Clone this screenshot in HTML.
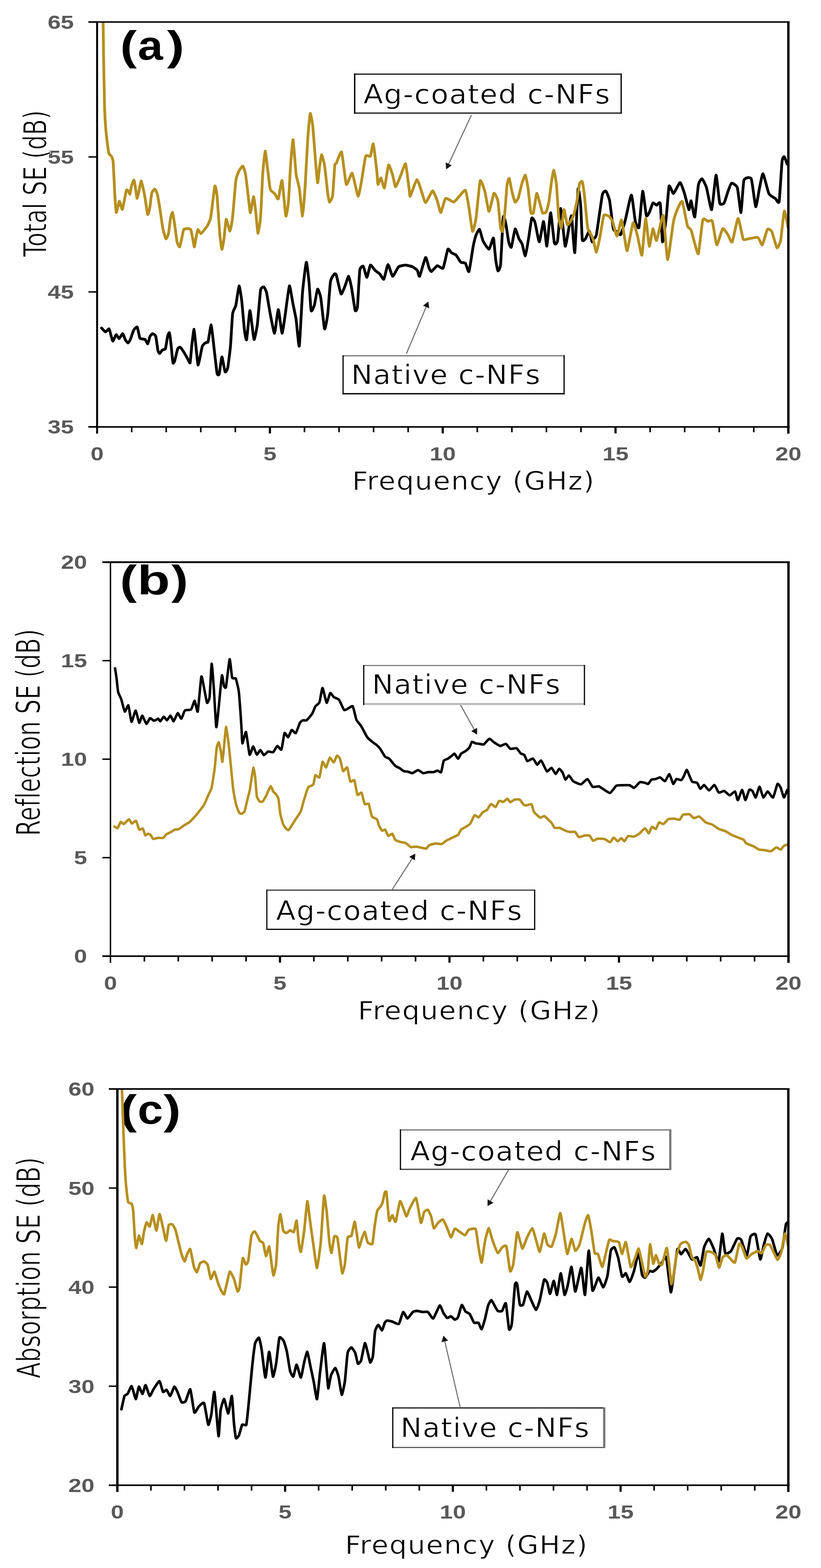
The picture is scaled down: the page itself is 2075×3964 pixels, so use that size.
<!DOCTYPE html><html><head><meta charset="utf-8"><title>Shielding effectiveness</title>
<style>html,body{margin:0;padding:0;background:#fff;}svg{display:block;}text{font-variant-ligatures:none;font-feature-settings:"liga" 0,"clig" 0;}</style></head><body>
<svg xmlns="http://www.w3.org/2000/svg" width="2075" height="3964" viewBox="0 0 2075 3964">
<rect width="100%" height="100%" fill="#fff"/>
<defs>
<clipPath id="clipa"><rect x="245.4" y="55.6" width="1747.1" height="1023.6"/></clipPath>
<clipPath id="clipb"><rect x="279.2" y="1421.2" width="1713.6" height="996.0"/></clipPath>
<clipPath id="clipc"><rect x="296.6" y="2753.1" width="1695.8" height="1001.7"/></clipPath>
</defs>
<text x="303.71" y="151.25" font-family="'Liberation Sans', 'DejaVu Sans', sans-serif" font-weight="bold" font-size="104.00" fill="#000" textLength="42.06" lengthAdjust="spacingAndGlyphs">(</text>
<text x="348.21" y="151.25" font-family="'Liberation Sans', 'DejaVu Sans', sans-serif" font-weight="bold" font-size="104.00" fill="#000" textLength="63.60" lengthAdjust="spacingAndGlyphs">a</text>
<text x="422.04" y="151.25" font-family="'Liberation Sans', 'DejaVu Sans', sans-serif" font-weight="bold" font-size="104.00" fill="#000" textLength="43.62" lengthAdjust="spacingAndGlyphs">)</text>
<text x="303.26" y="1502.15" font-family="'Liberation Sans', 'DejaVu Sans', sans-serif" font-weight="bold" font-size="104.00" fill="#000" textLength="42.64" lengthAdjust="spacingAndGlyphs">(</text>
<text x="346.95" y="1502.15" font-family="'Liberation Sans', 'DejaVu Sans', sans-serif" font-weight="bold" font-size="104.00" fill="#000" textLength="82.56" lengthAdjust="spacingAndGlyphs">b</text>
<text x="432.91" y="1502.15" font-family="'Liberation Sans', 'DejaVu Sans', sans-serif" font-weight="bold" font-size="104.00" fill="#000" textLength="42.41" lengthAdjust="spacingAndGlyphs">)</text>
<text x="302.69" y="2841.29" font-family="'Liberation Sans', 'DejaVu Sans', sans-serif" font-weight="bold" font-size="103.42" fill="#000" textLength="43.17" lengthAdjust="spacingAndGlyphs">(</text>
<text x="347.89" y="2841.29" font-family="'Liberation Sans', 'DejaVu Sans', sans-serif" font-weight="bold" font-size="103.42" fill="#000" textLength="64.33" lengthAdjust="spacingAndGlyphs">c</text>
<text x="413.39" y="2841.29" font-family="'Liberation Sans', 'DejaVu Sans', sans-serif" font-weight="bold" font-size="103.42" fill="#000" textLength="43.80" lengthAdjust="spacingAndGlyphs">)</text>
<g clip-path="url(#clipa)" fill="none" stroke-linejoin="round" stroke-linecap="round">
<path d="M256.7 829.2C257.5 830.0 265.1 839.0 266.7 839.2C268.3 839.4 274.4 830.5 275.6 831.4C276.8 832.3 280.4 847.7 281.2 850.3C282.0 852.9 284.6 863.0 285.6 862.6C286.6 862.2 292.1 846.5 293.4 845.9C294.7 845.3 299.8 856.1 301.2 855.9C302.6 855.7 308.8 843.3 310.1 843.6C311.4 843.9 315.7 857.2 316.8 859.2C317.9 861.2 322.5 867.0 323.5 867.0C324.5 867.0 327.8 861.9 329.0 859.2C330.2 856.5 336.4 837.4 337.9 834.7C339.4 832.0 345.5 825.2 346.8 826.9C348.1 828.6 352.3 852.3 353.5 854.8C354.7 857.3 360.2 856.7 361.3 857.0C362.4 857.3 365.9 857.1 366.9 858.1C367.9 859.1 372.5 869.9 373.5 869.2C374.5 868.6 378.1 852.4 379.1 850.3C380.1 848.2 384.6 843.6 385.8 843.6C387.0 843.6 392.5 846.8 393.6 850.3C394.7 853.8 398.3 882.3 399.1 885.9C399.9 889.5 402.7 893.8 403.6 893.7C404.5 893.6 409.1 885.8 410.3 884.8C411.5 883.8 417.0 884.4 418.1 881.5C419.2 878.6 422.8 853.6 423.6 850.3C424.4 847.0 427.4 839.5 428.1 841.4C428.8 843.3 431.8 866.3 432.5 872.6C433.2 878.9 436.3 913.8 437.0 917.1C437.7 920.4 440.4 915.6 441.4 912.6C442.4 909.6 448.0 884.4 449.2 881.5C450.4 878.6 454.6 877.4 455.9 878.1C457.2 878.8 463.3 888.1 464.8 890.4C466.3 892.7 472.4 903.8 473.7 906.0C475.0 908.2 479.5 919.9 480.4 917.1C481.3 914.3 484.0 879.6 484.8 872.6C485.6 865.6 489.5 831.6 490.4 832.5C491.3 833.4 495.2 876.2 496.0 883.7C496.8 891.2 499.7 920.7 500.4 922.6C501.1 924.5 504.0 910.0 504.9 906.0C505.8 902.0 510.2 878.1 511.5 874.8C512.8 871.5 519.2 866.8 520.4 865.9C521.6 865.0 524.9 867.4 526.0 863.7C527.1 860.0 532.6 820.5 533.8 821.4C535.0 822.3 539.2 864.9 540.4 875.0C541.6 885.1 547.4 937.1 548.5 943.0C549.6 948.9 553.0 949.1 554.0 945.7C555.0 942.3 559.6 902.7 560.8 902.2C562.0 901.7 567.7 937.9 568.9 940.2C570.1 942.5 574.6 934.7 575.7 929.3C576.8 923.9 581.5 886.3 582.5 875.0C583.5 863.7 586.8 802.1 587.9 793.5C589.0 784.9 594.7 777.6 596.1 771.7C597.5 765.8 603.0 723.7 604.2 722.8C605.4 721.9 609.9 751.6 611.0 760.9C612.1 770.2 616.8 826.1 617.8 834.2C618.8 842.4 622.2 862.8 623.3 858.7C624.4 854.6 630.3 788.5 631.4 785.3C632.5 782.1 635.9 814.6 636.8 820.7C637.7 826.8 641.2 858.7 642.3 858.7C643.4 858.7 649.0 831.1 650.4 820.7C651.8 810.3 657.2 741.6 658.6 733.7C660.0 725.8 665.5 725.0 666.7 725.5C667.9 726.0 672.1 733.4 673.5 739.1C674.9 744.8 681.3 784.9 683.0 793.5C684.7 802.1 692.2 843.3 693.9 842.4C695.6 841.5 701.8 782.6 703.4 782.6C705.0 782.6 711.4 841.5 712.9 842.4C714.4 843.3 719.6 803.5 721.1 793.5C722.6 783.5 729.8 725.1 731.4 722.8C733.0 720.5 738.7 759.3 740.1 766.3C741.5 773.3 746.9 798.0 748.3 807.1C749.7 816.2 755.0 880.7 756.4 875.0C757.8 869.3 763.1 756.8 764.6 739.1C766.1 721.4 772.7 665.3 774.1 663.0C775.5 660.7 779.9 701.8 780.9 712.0C781.9 722.2 785.2 780.3 786.3 785.3C787.4 790.3 793.1 776.2 794.5 771.7C795.9 767.2 801.2 732.6 802.6 731.0C804.0 729.4 809.2 744.3 810.7 752.7C812.2 761.1 818.8 828.1 820.3 831.5C821.8 834.9 827.2 803.5 828.4 793.5C829.6 783.5 833.8 720.4 835.2 712.0C836.6 703.6 843.5 694.4 844.7 693.0C845.9 691.6 848.6 691.2 850.0 695.4C851.4 699.6 860.0 740.7 861.9 742.9C863.8 745.1 870.7 725.8 872.3 722.1C873.9 718.4 879.8 697.9 881.2 698.4C882.6 698.9 887.2 720.8 888.6 728.0C890.0 735.2 896.3 780.4 897.5 784.4C898.7 788.4 902.4 783.9 903.4 775.5C904.4 767.1 908.1 692.0 909.3 683.5C910.5 675.0 916.7 671.6 918.2 673.1C919.7 674.6 925.7 701.5 927.2 701.3C928.7 701.1 934.4 671.7 936.1 670.2C937.8 668.7 945.9 681.6 947.9 683.5C949.9 685.4 957.9 690.5 959.8 692.4C961.7 694.3 968.5 707.8 970.2 705.8C971.9 703.8 978.8 669.3 980.6 668.7C982.5 668.1 990.2 697.9 992.4 698.4C994.6 698.9 1004.6 677.0 1007.3 674.6C1010.0 672.2 1022.1 670.2 1025.1 670.2C1028.1 670.2 1040.4 673.5 1042.9 674.6C1045.4 675.7 1053.2 681.5 1054.7 683.5C1056.2 685.5 1059.0 701.1 1060.7 698.4C1062.4 695.7 1073.5 652.6 1075.5 650.9C1077.5 649.2 1083.2 674.6 1084.4 677.6C1085.6 680.6 1088.7 687.0 1090.4 686.5C1092.1 686.0 1102.7 672.4 1105.2 671.7C1107.7 671.0 1117.8 681.1 1120.0 677.6C1122.2 674.1 1130.2 633.3 1131.9 630.1C1133.6 626.9 1139.1 637.8 1140.8 639.0C1142.5 640.2 1150.7 643.0 1152.7 645.0C1154.7 647.0 1162.5 661.1 1164.5 662.8C1166.5 664.5 1174.7 663.7 1176.4 665.7C1178.1 667.7 1183.7 690.0 1185.3 686.5C1186.9 683.0 1194.2 631.9 1195.7 624.2C1197.2 616.5 1201.7 598.2 1203.1 594.5C1204.5 590.8 1210.5 578.5 1212.0 579.7C1213.5 580.9 1218.9 605.1 1220.9 609.3C1222.9 613.5 1233.7 630.3 1235.7 630.1C1237.7 629.9 1243.6 608.6 1244.6 606.4C1245.6 604.2 1246.9 599.0 1247.6 603.3C1248.3 607.6 1252.1 650.8 1253.0 657.6C1253.9 664.4 1257.4 683.9 1258.4 684.8C1259.4 685.7 1264.1 679.8 1265.2 668.5C1266.3 657.2 1270.9 557.3 1272.0 548.9C1273.1 540.5 1277.7 562.7 1278.8 567.9C1279.9 573.1 1284.5 606.6 1285.6 611.4C1286.7 616.2 1291.0 627.7 1292.4 625.0C1293.8 622.3 1300.3 580.6 1301.9 578.8C1303.5 577.0 1309.9 600.1 1311.4 603.3C1312.9 606.5 1318.2 613.2 1319.6 616.8C1321.0 620.4 1326.3 647.8 1327.7 646.7C1329.1 645.6 1334.5 611.2 1335.9 603.3C1337.3 595.4 1342.6 555.0 1344.0 551.6C1345.4 548.2 1350.6 557.5 1352.2 562.5C1353.8 567.5 1361.2 611.6 1363.0 611.4C1364.8 611.2 1372.3 558.9 1373.9 559.8C1375.5 560.7 1380.6 624.1 1382.1 622.3C1383.6 620.5 1390.0 538.7 1391.6 538.0C1393.2 537.3 1399.6 608.2 1401.1 614.1C1402.6 620.0 1407.8 615.9 1409.2 608.7C1410.6 601.5 1415.8 526.1 1417.4 527.2C1419.0 528.3 1426.6 618.2 1428.3 622.3C1430.0 626.4 1436.4 582.4 1437.8 576.1C1439.2 569.8 1443.4 541.0 1444.6 546.2C1445.8 551.4 1451.3 644.3 1452.7 638.6C1454.1 632.9 1459.7 488.0 1460.9 478.3C1462.2 468.6 1466.8 511.1 1467.7 521.7C1468.6 532.3 1470.7 599.2 1471.7 606.0C1472.7 612.8 1478.4 605.1 1479.9 603.3C1481.4 601.5 1488.0 583.5 1489.4 584.2C1490.8 584.9 1495.3 609.7 1496.2 611.4C1497.1 613.1 1499.1 605.7 1500.0 604.2C1500.9 602.7 1505.5 602.3 1507.4 593.0C1509.3 583.7 1520.3 502.0 1522.3 492.9C1524.3 483.8 1530.0 482.4 1531.5 483.6C1533.0 484.8 1539.2 499.8 1540.8 507.7C1542.3 515.6 1548.6 571.7 1550.1 578.2C1551.6 584.7 1557.8 584.4 1559.3 585.6C1560.8 586.8 1566.9 595.2 1568.6 593.0C1570.3 590.8 1577.4 567.9 1579.7 559.6C1582.0 551.3 1593.5 492.9 1595.7 492.9C1597.9 492.9 1604.1 552.8 1605.7 559.6C1607.3 566.4 1613.5 580.8 1615.0 574.5C1616.5 568.2 1622.8 486.1 1624.3 483.6C1625.8 481.1 1632.1 540.3 1633.5 544.8C1634.9 549.3 1639.6 540.0 1641.0 537.4C1642.4 534.8 1648.7 514.8 1650.2 513.3C1651.7 511.7 1658.0 518.6 1659.5 518.8C1661.0 518.9 1667.6 507.4 1668.8 515.1C1670.0 522.8 1673.1 608.5 1674.3 611.6C1675.5 614.7 1682.2 564.0 1683.6 552.2C1685.0 540.5 1689.5 475.9 1691.0 470.6C1692.5 465.4 1699.9 490.0 1702.2 489.2C1704.5 488.4 1716.5 461.4 1718.8 461.4C1721.1 461.4 1728.1 483.5 1730.0 489.2C1731.9 494.9 1739.7 528.5 1741.1 530.0C1742.5 531.5 1745.5 506.2 1746.7 507.7C1747.9 509.2 1754.4 551.9 1755.9 548.5C1757.4 545.1 1763.7 474.9 1765.2 466.9C1766.8 458.9 1772.8 451.5 1774.5 452.1C1776.2 452.7 1783.6 467.8 1785.6 474.3C1787.6 480.8 1796.6 532.6 1798.6 530.0C1800.6 527.4 1808.0 444.2 1809.7 442.8C1811.4 441.4 1817.3 507.4 1819.0 513.3C1820.7 519.2 1828.4 515.6 1830.1 513.3C1831.8 511.0 1837.9 489.7 1839.4 485.5C1841.0 481.3 1846.7 464.1 1848.7 463.2C1850.7 462.3 1861.5 468.1 1863.5 474.3C1865.5 480.5 1871.4 538.9 1872.8 537.4C1874.2 535.9 1878.0 462.9 1880.2 455.8C1882.4 448.7 1896.2 446.5 1898.7 452.1C1901.2 457.7 1908.2 520.3 1909.9 522.5C1911.6 524.7 1917.6 484.9 1919.1 478.0C1920.6 471.1 1926.4 438.2 1928.4 439.1C1930.4 440.0 1940.6 483.9 1943.2 489.2C1945.8 494.5 1957.7 500.5 1959.9 502.2C1962.1 503.9 1967.8 517.5 1969.2 509.6C1970.6 501.7 1975.5 417.0 1976.6 407.6C1977.7 398.2 1981.1 395.8 1982.2 396.4C1983.3 397.0 1989.0 413.4 1989.6 415.0" stroke="#000" stroke-width="7.0"/>
<path d="M255.5 40.0C255.9 41.5 260.0 49.4 260.5 57.9C261.0 66.4 261.5 124.8 261.8 142.5C262.1 160.2 263.8 254.6 264.3 270.6C264.8 286.6 267.3 325.0 268.2 334.6C269.1 344.2 273.4 380.8 274.6 385.9C275.8 391.0 281.3 394.0 282.3 396.1C283.3 398.2 285.5 403.8 286.1 411.5C286.7 419.2 289.4 477.9 290.0 488.4C290.6 498.9 292.8 535.3 293.8 537.0C294.8 538.7 300.5 510.4 301.5 508.9C302.5 507.4 304.7 517.4 305.3 519.1C305.9 520.8 308.4 530.5 309.2 529.4C309.9 528.3 313.4 510.4 314.3 506.3C315.2 502.2 318.5 482.6 319.4 480.7C320.2 478.8 323.8 482.4 324.5 483.3C325.2 484.2 327.8 492.0 328.4 490.9C329.0 489.8 331.3 473.4 332.2 470.4C333.1 467.4 337.7 454.7 338.6 455.1C339.5 455.5 341.9 471.8 342.5 475.6C343.1 479.4 345.7 500.1 346.3 501.2C346.9 502.3 349.3 492.0 350.2 488.4C351.1 484.8 355.6 458.7 356.6 457.6C357.6 456.5 360.8 472.0 361.7 475.6C362.6 479.2 365.8 495.6 366.8 501.2C367.8 506.8 372.2 540.1 373.2 542.2C374.2 544.3 377.5 531.3 378.4 526.8C379.3 522.3 382.4 492.5 383.5 488.4C384.6 484.3 390.0 477.9 391.2 478.1C392.4 478.3 396.5 486.8 397.6 490.9C398.7 495.0 402.8 519.5 404.0 526.8C405.2 534.1 410.4 571.6 411.7 578.0C413.0 584.4 418.1 602.6 419.3 603.7C420.5 604.8 424.8 595.2 425.8 590.9C426.8 586.6 430.0 556.9 430.9 552.4C431.8 547.9 435.1 535.9 436.0 537.0C436.9 538.1 440.1 559.0 441.1 565.2C442.1 571.4 446.4 606.5 447.5 611.4C448.6 616.3 452.9 624.8 453.9 624.2C454.9 623.6 458.2 607.3 459.1 603.7C460.0 600.1 463.0 582.7 464.2 580.6C465.4 578.5 471.7 578.0 473.2 578.0C474.7 578.0 480.9 578.5 482.1 580.6C483.3 582.7 486.4 600.1 487.2 603.7C487.9 607.3 490.5 624.2 491.1 624.2C491.8 624.2 494.3 607.3 495.0 603.7C495.7 600.1 498.9 581.7 500.0 580.6C501.1 579.5 506.3 590.9 507.7 590.9C509.1 590.9 515.3 582.3 516.7 580.6C518.1 578.9 523.1 572.8 524.4 570.4C525.7 568.0 531.1 556.5 532.1 552.4C533.1 548.3 535.4 528.6 536.3 521.7C537.2 514.8 542.1 472.4 543.1 470.1C544.1 467.8 547.5 484.6 548.5 494.6C549.5 504.6 554.3 578.4 555.3 589.7C556.3 601.0 559.9 629.3 560.8 630.4C561.7 631.5 565.3 609.6 566.2 603.3C567.1 597.0 570.4 555.9 571.6 554.3C572.8 552.7 579.7 584.7 581.1 584.2C582.5 583.8 586.6 559.5 587.9 548.9C589.1 538.3 594.7 466.2 596.1 456.5C597.5 446.8 602.7 435.2 604.2 432.1C605.7 429.0 612.4 419.1 613.8 419.8C615.2 420.5 619.4 434.0 620.5 440.2C621.6 446.4 626.3 486.5 627.3 494.6C628.3 502.8 631.7 537.8 632.8 538.0C633.9 538.2 639.8 497.5 640.9 497.3C642.0 497.1 645.5 527.6 646.4 535.3C647.3 543.0 650.8 588.6 651.8 589.7C652.8 590.8 657.6 561.4 658.6 548.9C659.6 536.4 663.0 454.1 664.0 440.2C665.0 426.3 669.3 382.9 670.3 381.8C671.3 380.7 675.2 418.6 676.3 426.6C677.4 434.6 681.5 473.1 683.0 478.3C684.5 483.5 692.2 487.1 693.9 489.1C695.6 491.1 701.8 505.4 703.4 502.7C705.0 500.0 711.3 452.9 712.9 456.5C714.5 460.1 721.0 541.9 722.4 546.2C723.8 550.5 728.2 519.3 729.2 508.2C730.2 497.1 733.7 425.9 734.7 413.0C735.7 400.1 739.6 351.0 740.7 353.3C741.8 355.6 747.0 430.0 748.3 440.2C749.6 450.4 755.0 466.7 756.4 475.5C757.8 484.3 763.4 546.9 764.6 546.2C765.9 545.5 770.3 484.2 771.4 467.4C772.5 450.6 777.1 360.2 778.2 345.1C779.3 330.0 783.1 289.0 784.1 286.7C785.1 284.4 789.4 309.6 790.4 317.9C791.4 326.2 794.8 373.9 795.8 385.9C796.8 397.9 801.6 459.3 802.6 462.0C803.6 464.7 807.2 424.4 808.1 418.5C809.0 412.6 811.9 391.3 812.9 391.3C813.9 391.3 819.0 410.4 820.3 418.5C821.6 426.6 827.4 481.4 828.4 489.1C829.4 496.8 831.5 510.4 832.5 510.9C833.5 511.4 839.6 502.3 840.7 494.6C841.8 486.9 845.3 425.3 846.1 418.5C846.9 411.7 848.6 415.6 850.0 412.8C851.4 410.0 861.3 380.2 863.4 384.6C865.5 389.1 873.0 461.8 875.2 466.2C877.4 470.6 887.6 435.5 890.1 438.0C892.6 440.5 902.9 494.2 904.9 495.8C906.9 497.4 912.2 465.7 913.8 457.3C915.4 448.9 922.3 400.2 924.2 395.0C926.1 389.8 934.5 397.6 936.1 395.0C937.7 392.4 942.1 360.6 943.5 363.8C944.9 367.0 951.4 425.0 952.4 433.5C953.4 442.0 954.4 464.8 955.3 466.2C956.2 467.6 961.4 449.2 962.8 449.9C964.2 450.6 970.1 477.8 971.7 475.1C973.3 472.4 980.3 419.9 982.0 417.2C983.7 414.5 990.9 437.8 992.4 442.4C993.9 447.0 998.2 472.1 999.9 472.1C1001.6 472.1 1011.1 447.2 1013.2 442.4C1015.3 437.6 1023.4 411.2 1025.1 414.2C1026.8 417.2 1033.0 471.2 1034.0 478.0C1035.0 484.8 1035.3 497.8 1036.9 495.8C1038.5 493.8 1051.1 455.8 1053.3 454.3C1055.5 452.8 1061.8 473.2 1063.6 478.0C1065.4 482.8 1073.0 511.8 1075.5 512.2C1078.0 512.6 1090.8 482.9 1093.3 482.5C1095.8 482.1 1103.5 503.1 1105.2 507.7C1106.9 512.3 1112.4 537.9 1114.1 537.4C1115.8 536.9 1123.3 504.0 1126.0 501.8C1128.7 499.6 1144.0 510.9 1146.7 510.7C1149.4 510.4 1156.1 501.3 1158.6 498.8C1161.1 496.3 1174.2 478.8 1176.4 481.0C1178.6 483.2 1183.8 516.8 1185.3 525.5C1186.8 534.2 1192.7 582.7 1194.2 584.9C1195.7 587.1 1201.5 562.8 1203.1 552.2C1204.7 541.6 1211.6 463.0 1213.5 457.3C1215.4 451.6 1223.5 477.6 1225.4 484.0C1227.3 490.4 1234.0 533.9 1235.8 534.4C1237.6 534.9 1246.3 493.4 1247.6 489.9C1248.9 486.3 1250.7 490.3 1251.6 491.8C1252.5 493.3 1257.3 501.2 1258.4 508.2C1259.5 515.2 1264.2 569.8 1265.2 576.1C1266.2 582.4 1269.8 587.6 1270.7 584.2C1271.6 580.8 1275.2 545.0 1276.1 535.3C1277.0 525.6 1280.6 474.4 1281.5 467.4C1282.4 460.4 1286.0 449.7 1287.0 451.1C1288.0 452.5 1292.6 478.7 1293.8 483.7C1295.0 488.7 1300.5 509.5 1301.9 510.9C1303.3 512.3 1308.6 504.1 1310.1 500.0C1311.6 495.9 1318.1 466.8 1319.6 462.0C1321.1 457.2 1326.5 441.8 1327.7 442.9C1328.9 444.0 1333.4 467.8 1334.5 475.5C1335.6 483.2 1340.2 530.1 1341.3 535.3C1342.4 540.5 1346.8 541.9 1348.1 538.0C1349.3 534.1 1355.1 491.6 1356.3 489.1C1357.5 486.6 1361.8 504.1 1363.0 508.2C1364.2 512.3 1369.7 535.7 1371.2 538.0C1372.7 540.3 1379.3 537.8 1380.7 535.3C1382.1 532.8 1386.4 514.8 1387.5 508.2C1388.6 501.6 1393.3 463.0 1394.3 456.5C1395.3 450.0 1398.7 429.8 1399.7 430.7C1400.7 431.6 1405.5 457.5 1406.5 467.4C1407.5 477.2 1411.0 539.8 1412.0 548.9C1413.0 558.0 1417.7 577.7 1418.8 576.1C1419.9 574.5 1424.3 530.6 1425.5 529.9C1426.7 529.2 1432.3 565.4 1433.7 567.9C1435.1 570.4 1440.4 561.8 1441.8 559.8C1443.2 557.8 1448.6 547.8 1450.0 543.5C1451.4 539.2 1457.0 514.8 1458.2 508.2C1459.4 501.6 1463.8 468.8 1464.9 464.7C1466.0 460.6 1470.7 456.7 1471.7 459.2C1472.7 461.7 1476.1 484.9 1477.2 494.6C1478.3 504.3 1483.9 568.0 1485.3 576.1C1486.7 584.2 1492.3 589.8 1493.5 592.4C1494.7 595.0 1498.8 604.1 1500.0 607.9C1501.2 611.7 1506.0 638.4 1507.4 637.5C1508.8 636.6 1515.2 604.4 1516.7 596.7C1518.2 589.0 1524.2 549.0 1526.0 544.8C1527.8 540.6 1537.1 545.5 1538.9 546.7C1540.8 547.9 1546.5 555.4 1548.2 559.6C1549.9 563.8 1557.4 597.0 1559.3 596.7C1561.2 596.4 1569.0 555.9 1570.5 555.9C1572.0 555.9 1576.7 590.2 1577.9 596.7C1579.1 603.2 1583.5 636.6 1585.3 633.8C1587.1 631.0 1597.9 566.5 1600.1 563.4C1602.3 560.3 1609.4 589.9 1611.3 596.7C1613.2 603.5 1620.7 648.7 1622.4 645.0C1624.1 641.3 1630.2 554.1 1631.7 552.2C1633.2 550.3 1639.5 620.5 1641.0 622.7C1642.5 624.9 1648.7 579.4 1650.2 578.2C1651.7 577.0 1657.3 610.7 1659.5 607.9C1661.7 605.1 1673.9 540.8 1676.2 544.8C1678.5 548.8 1685.1 654.9 1687.3 656.1C1689.5 657.3 1700.0 570.4 1702.2 559.6C1704.4 548.8 1711.5 530.5 1713.3 526.3C1715.1 522.1 1722.4 505.9 1724.4 509.6C1726.4 513.3 1735.5 564.8 1737.4 570.8C1739.3 576.8 1745.2 578.2 1746.7 581.9C1748.2 585.6 1754.4 610.4 1755.9 615.3C1757.4 620.2 1763.5 646.2 1765.2 641.2C1766.9 636.2 1774.3 562.7 1776.3 555.9C1778.3 549.1 1787.3 559.3 1789.3 559.6C1791.3 559.9 1798.5 554.6 1800.4 559.6C1802.3 564.6 1809.4 617.5 1811.6 619.0C1813.8 620.5 1824.1 580.4 1826.4 578.2C1828.7 576.0 1837.4 590.2 1839.4 593.0C1841.4 595.8 1848.3 615.0 1850.5 611.6C1852.7 608.2 1863.1 552.8 1865.4 552.2C1867.7 551.6 1876.3 599.9 1878.3 604.2C1880.3 608.5 1886.4 604.5 1889.5 604.2C1892.6 603.9 1912.3 599.2 1915.4 600.4C1918.5 601.6 1924.6 620.7 1926.6 619.0C1928.6 617.3 1937.5 582.8 1939.5 580.0C1941.5 577.2 1948.7 581.7 1950.7 585.6C1952.7 589.5 1961.8 624.5 1963.6 626.4C1965.4 628.3 1971.4 615.6 1972.9 607.9C1974.5 600.2 1980.7 536.5 1982.2 533.7C1983.8 530.9 1990.7 571.1 1991.5 574.5" stroke="#B68F1E" stroke-width="7.0"/>
</g>
<g clip-path="url(#clipb)" fill="none" stroke-linejoin="round" stroke-linecap="round">
<path d="M290.8 1689.7C291.1 1691.9 294.1 1710.7 294.7 1715.7C295.3 1720.7 297.6 1745.2 298.6 1749.5C299.6 1753.8 305.0 1763.5 306.4 1767.6C307.8 1771.7 313.9 1797.5 315.4 1798.8C316.9 1800.1 323.1 1781.0 324.5 1783.2C325.9 1785.4 330.8 1823.7 332.3 1824.8C333.8 1825.9 341.1 1796.0 342.7 1796.2C344.3 1796.4 350.4 1826.3 351.8 1827.4C353.2 1828.5 358.1 1809.0 359.6 1809.2C361.1 1809.4 368.4 1829.5 370.0 1830.0C371.6 1830.5 377.5 1816.4 379.1 1815.7C380.7 1815.0 387.7 1822.1 389.4 1822.2C391.1 1822.3 398.5 1816.9 399.8 1817.0C401.1 1817.1 403.8 1823.9 405.0 1823.5C406.2 1823.1 412.7 1812.0 414.1 1811.8C415.5 1811.6 420.5 1821.1 421.9 1820.9C423.3 1820.7 429.6 1809.0 431.0 1809.2C432.4 1809.4 437.3 1824.0 438.8 1823.5C440.3 1823.0 447.6 1803.2 449.2 1802.7C450.8 1802.2 456.8 1817.5 458.3 1817.0C459.8 1816.5 465.2 1798.2 467.3 1796.2C469.4 1794.2 480.8 1795.7 482.9 1793.6C485.0 1791.5 490.6 1771.1 492.0 1771.5C493.4 1771.9 498.4 1803.9 499.8 1798.8C501.2 1793.7 507.5 1715.0 508.9 1710.5C510.3 1706.0 515.5 1738.8 516.7 1744.3C517.9 1749.8 522.1 1775.2 523.2 1776.7C524.3 1778.2 528.7 1770.6 529.7 1762.4C530.7 1754.2 534.0 1680.4 534.9 1678.0C535.8 1675.6 539.0 1720.6 540.0 1733.9C541.0 1747.2 545.5 1832.3 546.5 1837.7C547.5 1843.1 550.5 1809.6 551.7 1798.8C552.9 1788.0 559.6 1713.3 560.8 1707.9C562.0 1702.5 565.1 1731.5 566.0 1733.9C566.9 1736.3 570.0 1742.1 571.2 1736.5C572.4 1730.9 579.0 1668.4 580.3 1666.4C581.6 1664.5 585.5 1709.0 586.8 1713.1C588.1 1717.2 594.5 1712.7 595.9 1715.7C597.3 1718.7 602.5 1739.3 603.7 1749.5C604.9 1759.7 609.5 1826.9 610.2 1837.7C610.9 1848.5 611.6 1878.2 612.6 1879.3C613.6 1880.4 620.2 1848.3 621.7 1850.7C623.2 1853.1 629.3 1904.8 630.8 1907.8C632.3 1910.8 638.4 1887.1 639.9 1887.1C641.4 1887.1 647.5 1907.0 649.0 1907.8C650.5 1908.6 656.5 1896.1 658.0 1896.2C659.5 1896.3 665.5 1908.8 667.1 1909.1C668.7 1909.4 675.5 1900.6 677.5 1900.0C679.5 1899.4 688.5 1902.6 690.5 1901.4C692.5 1900.2 699.2 1886.3 700.9 1885.8C702.6 1885.3 709.8 1897.6 711.3 1894.9C712.8 1892.2 717.7 1855.9 719.1 1853.3C720.5 1850.7 726.7 1864.4 728.2 1863.7C729.7 1863.0 735.6 1846.4 737.2 1845.5C738.8 1844.6 745.9 1854.8 747.6 1853.3C749.3 1851.8 756.5 1830.1 758.0 1827.4C759.5 1824.7 764.4 1821.4 765.8 1820.9C767.2 1820.4 772.9 1822.3 774.9 1820.9C776.9 1819.5 787.4 1806.9 789.2 1804.0C791.0 1801.1 795.5 1788.2 797.0 1785.8C798.5 1783.4 805.9 1779.3 807.4 1775.4C808.9 1771.5 813.6 1739.0 815.1 1739.1C816.6 1739.2 823.9 1775.6 825.5 1776.7C827.1 1777.8 833.1 1753.2 834.6 1752.0C836.1 1750.8 841.9 1761.0 843.7 1762.4C845.5 1763.8 854.5 1766.2 856.7 1768.9C858.9 1771.6 867.8 1793.1 869.7 1794.9C871.7 1796.7 878.3 1791.8 880.1 1791.0C881.9 1790.2 890.0 1783.4 891.7 1785.8C893.4 1788.2 899.1 1815.5 900.8 1819.6C902.5 1823.7 910.2 1831.4 912.5 1835.1C914.8 1838.8 925.6 1860.2 928.1 1863.7C930.6 1867.2 940.6 1875.2 942.4 1876.7C944.2 1878.2 948.5 1880.6 950.0 1881.9C951.5 1883.2 958.4 1889.7 960.4 1892.3C962.4 1894.9 971.4 1910.8 973.4 1913.0C975.4 1915.2 981.6 1916.2 983.8 1918.2C986.0 1920.2 997.1 1934.5 999.3 1936.4C1001.5 1938.4 1008.0 1940.5 1009.7 1941.6C1011.4 1942.7 1018.4 1948.6 1020.1 1949.4C1021.8 1950.2 1028.7 1950.3 1030.5 1950.7C1032.3 1951.1 1040.0 1954.9 1042.2 1954.6C1044.4 1954.3 1054.2 1946.8 1056.5 1946.8C1058.8 1946.8 1067.3 1954.2 1069.5 1954.6C1071.7 1955.0 1080.2 1952.2 1082.4 1952.0C1084.6 1951.8 1093.5 1952.3 1095.4 1952.0C1097.4 1951.7 1104.2 1948.1 1105.8 1948.1C1107.4 1948.1 1113.6 1954.1 1114.9 1952.0C1116.2 1949.9 1120.0 1926.2 1121.4 1923.4C1122.8 1920.6 1130.1 1919.3 1131.8 1918.2C1133.5 1917.1 1140.8 1911.5 1142.2 1910.4C1143.6 1909.3 1147.3 1904.6 1148.6 1905.3C1149.9 1906.0 1156.3 1918.2 1157.7 1918.2C1159.1 1918.2 1163.8 1907.0 1165.5 1905.3C1167.2 1903.6 1176.8 1898.8 1178.5 1897.5C1180.2 1896.2 1185.1 1891.5 1186.3 1889.7C1187.5 1887.9 1191.5 1876.3 1192.8 1875.4C1194.1 1874.5 1200.3 1878.9 1201.9 1879.3C1203.5 1879.7 1210.6 1880.4 1212.3 1880.6C1214.0 1880.8 1220.7 1883.0 1222.7 1881.9C1224.8 1880.8 1234.7 1868.0 1236.9 1867.6C1239.1 1867.2 1246.3 1875.2 1248.6 1876.7C1250.9 1878.2 1261.7 1885.5 1264.2 1885.8C1266.7 1886.1 1276.3 1880.0 1278.5 1880.6C1280.7 1881.2 1287.7 1892.1 1290.0 1893.0C1292.3 1893.9 1303.4 1890.7 1305.6 1891.7C1307.8 1892.7 1314.4 1903.3 1316.0 1904.7C1317.6 1906.1 1323.7 1907.0 1325.1 1908.6C1326.5 1910.2 1331.0 1923.3 1332.8 1924.1C1334.6 1924.9 1345.0 1916.9 1347.1 1917.7C1349.2 1918.5 1355.8 1932.8 1357.5 1933.2C1359.2 1933.6 1365.8 1921.4 1367.9 1922.8C1370.0 1924.2 1380.0 1948.6 1382.2 1950.1C1384.4 1951.6 1392.1 1940.5 1393.9 1941.0C1395.7 1941.5 1402.7 1956.4 1404.3 1956.6C1405.9 1956.8 1411.8 1943.8 1413.3 1943.6C1414.8 1943.4 1421.1 1951.7 1422.4 1954.0C1423.7 1956.3 1427.6 1970.4 1428.9 1970.9C1430.2 1971.4 1436.4 1960.2 1438.0 1960.5C1439.6 1960.8 1446.7 1973.2 1448.4 1974.8C1450.1 1976.4 1457.1 1979.3 1458.8 1980.0C1460.5 1980.7 1467.0 1983.5 1469.2 1982.6C1471.4 1981.7 1482.4 1969.1 1484.8 1969.6C1487.2 1970.1 1495.3 1987.6 1497.7 1989.1C1500.1 1990.6 1511.1 1987.4 1513.3 1987.8C1515.5 1988.2 1521.3 1992.9 1523.7 1994.3C1526.1 1995.7 1539.1 2005.2 1541.9 2004.6C1544.7 2003.9 1555.1 1988.1 1557.5 1986.5C1559.9 1984.9 1567.6 1985.3 1570.4 1985.2C1573.2 1985.1 1588.5 1984.7 1591.2 1985.2C1593.9 1985.7 1600.7 1992.4 1602.9 1991.7C1605.1 1991.0 1614.9 1978.5 1617.2 1977.4C1619.5 1976.3 1628.2 1978.6 1630.0 1979.0C1631.8 1979.4 1636.8 1982.5 1638.2 1981.8C1639.6 1981.1 1644.9 1971.8 1646.5 1970.8C1648.1 1969.8 1655.6 1969.9 1657.4 1969.4C1659.2 1968.9 1666.5 1964.8 1668.4 1965.3C1670.4 1965.8 1678.8 1975.6 1680.8 1974.9C1682.8 1974.2 1690.1 1956.4 1691.8 1957.0C1693.5 1957.6 1699.9 1980.8 1701.4 1981.8C1702.9 1982.8 1707.9 1970.2 1709.6 1969.4C1711.3 1968.6 1720.4 1972.9 1722.0 1972.2C1723.6 1971.5 1727.7 1963.4 1728.8 1961.2C1729.9 1959.0 1734.6 1946.1 1735.7 1946.1C1736.8 1946.1 1741.4 1958.7 1742.5 1961.2C1743.6 1963.7 1747.8 1974.8 1749.4 1976.3C1751.0 1977.8 1760.1 1977.5 1761.8 1979.0C1763.5 1980.5 1768.5 1993.6 1770.0 1994.1C1771.5 1994.6 1777.8 1984.2 1779.6 1984.5C1781.4 1984.8 1789.8 1998.2 1792.0 1998.2C1794.2 1998.2 1803.6 1984.0 1805.7 1984.5C1807.8 1985.0 1814.6 2002.4 1816.7 2003.7C1818.8 2005.0 1828.1 1999.0 1830.4 1999.6C1832.7 2000.2 1841.8 2010.5 1844.1 2010.6C1846.4 2010.7 1856.1 2000.0 1857.8 2001.0C1859.5 2002.0 1863.2 2023.2 1864.7 2022.9C1866.2 2022.6 1874.1 1996.9 1875.7 1996.9C1877.3 1996.9 1882.4 2022.9 1883.9 2022.9C1885.4 2022.9 1892.0 1998.8 1893.5 1996.9C1895.0 1995.0 1900.4 1998.0 1901.8 1999.6C1903.2 2001.2 1908.5 2017.0 1910.0 2016.1C1911.5 2015.2 1918.0 1988.6 1919.6 1988.6C1921.2 1988.6 1927.5 2015.1 1929.2 2016.1C1930.9 2017.1 1938.1 2001.0 1940.2 2001.0C1942.3 2001.0 1951.8 2017.7 1953.9 2016.1C1956.0 2014.5 1963.3 1983.9 1964.9 1981.8C1966.5 1979.7 1971.7 1988.5 1973.1 1991.4C1974.5 1994.3 1980.0 2015.6 1981.4 2016.1C1982.8 2016.6 1988.9 1998.5 1989.6 1996.9" stroke="#000" stroke-width="6.3"/>
<path d="M289.5 2089.6C290.1 2089.9 296.0 2094.5 297.3 2093.5C298.6 2092.5 303.8 2078.8 305.1 2077.9C306.4 2077.0 311.1 2083.6 312.8 2083.1C314.5 2082.6 324.1 2071.5 325.8 2071.4C327.5 2071.3 332.1 2081.5 333.6 2081.8C335.1 2082.1 342.5 2074.0 344.0 2075.3C345.5 2076.6 350.4 2095.8 351.8 2097.4C353.2 2099.0 359.6 2093.6 360.9 2094.8C362.2 2096.0 366.3 2110.6 367.4 2111.7C368.5 2112.8 372.8 2107.9 373.9 2107.8C375.0 2107.7 379.3 2109.3 380.4 2110.4C381.5 2111.5 385.3 2120.2 386.9 2120.8C388.5 2121.5 397.6 2118.4 399.8 2118.2C402.0 2118.0 411.1 2119.0 412.8 2118.2C414.5 2117.4 418.9 2110.4 420.6 2109.1C422.3 2107.8 431.9 2103.6 433.6 2102.6C435.3 2101.6 439.9 2097.9 441.4 2097.4C442.9 2096.9 449.9 2097.0 451.8 2096.1C453.8 2095.2 462.6 2088.4 464.8 2087.0C467.0 2085.6 475.5 2080.9 477.7 2079.2C479.9 2077.5 488.5 2068.7 490.7 2066.3C492.9 2063.9 501.5 2053.5 503.7 2050.7C505.9 2047.9 514.9 2035.8 516.7 2032.5C518.5 2029.2 524.3 2015.2 525.8 2011.7C527.3 2008.2 533.5 1996.8 534.9 1991.0C536.3 1985.2 541.6 1950.0 542.7 1941.6C543.8 1933.2 546.9 1895.1 547.8 1889.7C548.7 1884.3 552.1 1875.8 553.0 1876.7C553.9 1877.6 557.4 1895.9 558.2 1900.0C559.0 1904.1 561.5 1926.9 562.1 1926.0C562.8 1925.1 565.2 1897.1 566.0 1889.7C566.8 1882.3 570.2 1838.6 571.2 1837.7C572.2 1836.8 576.8 1872.1 577.7 1879.3C578.6 1886.5 581.3 1914.0 582.3 1923.9C583.3 1933.8 588.5 1988.7 589.7 1998.0C590.9 2007.3 595.9 2030.4 597.1 2035.1C598.3 2039.8 603.4 2052.5 604.5 2054.4C605.6 2056.3 609.3 2057.6 610.4 2057.4C611.5 2057.2 616.8 2054.0 617.9 2051.5C619.0 2049.0 622.7 2032.2 623.8 2027.7C624.9 2023.2 630.2 2002.9 631.2 1998.0C632.2 1993.1 634.9 1973.2 635.7 1968.4C636.5 1963.6 640.1 1940.2 640.9 1940.2C641.7 1940.2 644.6 1962.3 645.3 1968.4C646.0 1974.5 648.1 2008.1 649.0 2012.9C649.9 2017.7 655.2 2025.1 656.4 2026.2C657.6 2027.3 662.5 2027.4 663.9 2026.2C665.3 2025.0 671.6 2013.8 672.8 2011.4C674.0 2009.1 677.7 2000.0 678.7 1998.0C679.7 1996.0 683.6 1987.5 684.6 1987.7C685.6 1988.0 689.5 1999.3 690.6 2001.0C691.7 2002.7 696.9 2006.8 698.0 2008.4C699.1 2010.0 703.0 2016.2 703.9 2020.3C704.8 2024.4 707.4 2052.1 708.4 2057.4C709.4 2062.7 714.6 2081.0 715.8 2084.1C717.0 2087.2 722.1 2093.3 723.2 2094.5C724.3 2095.7 727.9 2099.6 729.1 2098.9C730.3 2098.2 736.4 2088.1 738.0 2085.6C739.6 2083.1 746.6 2072.1 748.4 2069.3C750.2 2066.5 758.3 2055.4 760.0 2051.5C761.7 2047.6 766.8 2027.1 768.4 2022.1C770.0 2017.0 776.8 1994.1 778.8 1990.9C780.8 1987.7 790.3 1985.8 791.8 1983.2C793.3 1980.6 795.7 1961.3 797.0 1959.8C798.3 1958.3 805.9 1967.8 807.4 1965.0C808.9 1962.2 813.7 1928.1 815.1 1926.0C816.5 1923.9 822.7 1941.2 824.2 1940.3C825.7 1939.4 831.7 1916.7 833.3 1915.6C834.9 1914.5 842.2 1927.7 843.7 1927.3C845.2 1926.9 850.2 1911.2 851.5 1910.4C852.8 1909.6 858.0 1915.0 859.3 1918.2C860.6 1921.5 865.6 1947.6 867.1 1949.4C868.6 1951.2 876.0 1938.1 877.5 1940.3C879.0 1942.5 883.8 1972.7 885.3 1975.4C886.8 1978.1 894.1 1970.0 895.6 1972.8C897.1 1975.6 901.9 2006.5 903.4 2009.1C904.9 2011.7 912.3 2002.0 913.8 2003.9C915.3 2005.9 920.1 2030.1 921.6 2032.5C923.1 2034.9 930.5 2029.9 932.0 2032.5C933.5 2035.1 938.1 2060.5 939.8 2063.7C941.5 2066.9 951.3 2069.5 952.8 2071.4C954.3 2073.3 956.7 2084.6 957.8 2087.0C958.9 2089.4 964.3 2099.1 965.6 2100.0C966.9 2100.9 972.1 2096.3 973.4 2097.4C974.7 2098.5 979.7 2112.1 981.2 2113.0C982.7 2113.9 990.0 2106.9 991.5 2107.8C993.0 2108.7 997.6 2121.7 999.3 2123.4C1001.0 2125.1 1010.1 2127.9 1012.3 2128.6C1014.5 2129.2 1023.1 2130.1 1025.3 2131.2C1027.5 2132.3 1036.1 2140.8 1038.3 2141.6C1040.5 2142.4 1049.1 2140.2 1051.3 2140.3C1053.5 2140.4 1062.1 2142.5 1064.3 2142.9C1066.5 2143.3 1075.5 2145.9 1077.2 2145.4C1078.9 2144.9 1083.0 2137.5 1085.0 2136.4C1087.0 2135.3 1098.0 2132.7 1100.6 2132.5C1103.2 2132.3 1114.0 2134.3 1116.2 2133.8C1118.4 2133.3 1124.4 2127.3 1126.6 2126.0C1128.8 2124.7 1139.6 2119.5 1142.2 2118.2C1144.8 2116.9 1155.8 2112.1 1157.7 2110.4C1159.6 2108.7 1163.8 2099.1 1165.5 2097.4C1167.2 2095.7 1176.5 2090.9 1178.5 2089.6C1180.5 2088.3 1187.2 2084.2 1188.9 2081.8C1190.6 2079.4 1197.6 2062.4 1199.3 2061.1C1201.0 2059.8 1208.0 2067.0 1209.7 2066.3C1211.4 2065.7 1218.4 2054.8 1220.1 2053.3C1221.8 2051.8 1228.8 2049.8 1230.5 2048.1C1232.2 2046.4 1239.0 2033.2 1240.8 2032.5C1242.6 2031.8 1250.8 2041.0 1252.5 2040.3C1254.2 2039.6 1260.0 2025.8 1261.6 2024.7C1263.2 2023.6 1270.3 2027.7 1272.0 2027.3C1273.7 2026.9 1280.9 2019.4 1282.4 2019.5C1283.9 2019.6 1288.5 2027.8 1290.0 2028.0C1291.5 2028.2 1298.5 2022.0 1300.4 2021.5C1302.4 2021.0 1311.5 2020.4 1313.4 2021.5C1315.4 2022.6 1322.3 2033.3 1323.8 2034.5C1325.3 2035.7 1329.9 2035.9 1331.5 2035.8C1333.1 2035.7 1341.7 2031.8 1343.2 2033.2C1344.7 2034.6 1347.9 2049.9 1349.7 2052.7C1351.5 2055.5 1363.1 2066.1 1365.3 2067.0C1367.5 2067.9 1373.3 2062.0 1375.7 2063.1C1378.1 2064.2 1391.7 2077.5 1393.9 2080.0C1396.1 2082.5 1400.0 2091.8 1401.7 2092.9C1403.4 2094.0 1412.2 2092.2 1414.6 2092.9C1417.0 2093.6 1428.0 2099.8 1430.2 2100.7C1432.4 2101.6 1438.6 2103.1 1440.6 2103.3C1442.5 2103.5 1451.8 2102.2 1453.6 2103.3C1455.4 2104.4 1460.8 2115.5 1462.7 2116.3C1464.7 2117.1 1474.7 2112.7 1477.0 2112.4C1479.3 2112.1 1488.2 2111.3 1490.0 2112.4C1491.8 2113.5 1497.3 2124.8 1499.0 2125.4C1500.7 2126.1 1508.2 2120.5 1510.7 2120.2C1513.2 2119.9 1526.3 2120.7 1528.9 2121.5C1531.5 2122.3 1540.1 2129.6 1541.9 2129.3C1543.7 2129.0 1549.4 2117.8 1551.0 2117.6C1552.6 2117.4 1559.8 2126.6 1561.4 2126.7C1563.0 2126.8 1569.0 2118.9 1570.4 2118.9C1571.8 2118.9 1576.8 2127.1 1578.2 2126.7C1579.6 2126.3 1585.3 2114.7 1587.3 2113.7C1589.2 2112.7 1599.3 2115.4 1601.6 2115.0C1603.9 2114.6 1612.2 2110.2 1614.6 2108.5C1617.0 2106.8 1628.1 2094.3 1630.2 2094.2C1632.3 2094.0 1638.1 2107.0 1639.6 2106.7C1641.1 2106.4 1646.3 2091.1 1647.8 2090.2C1649.3 2089.3 1655.9 2096.6 1657.4 2095.7C1658.9 2094.8 1664.1 2080.2 1665.7 2079.2C1667.3 2078.2 1674.8 2084.0 1676.7 2083.3C1678.6 2082.6 1686.7 2072.1 1689.0 2071.0C1691.3 2069.9 1701.7 2069.5 1704.1 2069.6C1706.5 2069.7 1716.0 2073.1 1717.8 2072.3C1719.6 2071.5 1724.0 2061.1 1726.1 2060.0C1728.2 2058.9 1740.2 2057.9 1742.5 2058.6C1744.8 2059.3 1751.4 2067.7 1753.5 2068.2C1755.6 2068.7 1764.7 2063.2 1767.2 2064.1C1769.7 2065.0 1781.0 2077.5 1783.7 2079.2C1786.5 2080.9 1797.5 2083.3 1800.2 2084.7C1803.0 2086.1 1814.0 2094.3 1816.7 2095.7C1819.4 2097.1 1830.4 2099.9 1833.1 2101.2C1835.8 2102.5 1846.8 2109.4 1849.6 2110.8C1852.3 2112.2 1863.6 2116.6 1866.1 2117.6C1868.6 2118.6 1878.2 2121.9 1879.8 2123.1C1881.4 2124.2 1883.2 2130.0 1885.3 2131.4C1887.4 2132.8 1901.8 2138.2 1904.5 2139.6C1907.2 2141.0 1915.9 2147.0 1918.2 2147.8C1920.5 2148.6 1929.5 2148.9 1932.0 2149.2C1934.5 2149.5 1945.9 2152.5 1948.4 2151.9C1950.9 2151.3 1960.1 2142.6 1962.2 2142.3C1964.3 2142.0 1971.5 2148.1 1973.1 2147.8C1974.7 2147.5 1979.8 2139.3 1981.4 2138.2C1983.0 2137.1 1991.5 2134.4 1992.4 2134.1" stroke="#B68F1E" stroke-width="6.3"/>
</g>
<g clip-path="url(#clipc)" fill="none" stroke-linejoin="round" stroke-linecap="round">
<path d="M306.9 3562.9C307.5 3560.1 313.4 3532.3 314.7 3529.1C316.0 3525.8 321.0 3526.0 322.5 3523.9C324.0 3521.8 331.1 3503.3 332.8 3504.4C334.5 3505.5 341.7 3536.8 343.2 3536.9C344.7 3537.0 349.6 3506.8 351.0 3505.7C352.4 3504.6 358.7 3524.2 360.1 3523.9C361.5 3523.6 366.4 3501.4 367.9 3501.8C369.4 3502.2 376.6 3528.3 378.3 3529.1C380.0 3529.9 386.6 3514.0 388.7 3510.9C390.8 3507.8 401.1 3490.8 403.0 3491.5C404.9 3492.2 410.5 3516.9 412.0 3518.7C413.5 3520.5 419.6 3512.6 421.1 3513.5C422.6 3514.4 428.6 3529.8 430.2 3529.1C431.8 3528.4 439.1 3506.6 440.6 3505.7C442.1 3504.8 446.9 3515.4 448.4 3518.7C449.9 3521.9 457.1 3542.8 458.8 3544.7C460.5 3546.6 467.4 3544.8 469.2 3542.1C471.0 3539.4 479.1 3509.8 480.9 3512.2C482.7 3514.6 489.4 3567.1 491.2 3570.7C493.0 3574.3 500.8 3557.0 502.9 3555.1C505.0 3553.2 513.9 3543.4 515.9 3547.3C517.9 3551.2 524.8 3599.4 526.3 3601.8C527.8 3604.2 532.8 3582.8 534.1 3575.9C535.4 3569.0 540.4 3514.2 541.9 3518.7C543.4 3523.2 551.0 3626.5 552.3 3630.4C553.6 3634.3 556.3 3573.3 557.5 3565.5C558.7 3557.7 564.9 3536.2 566.5 3536.9C568.1 3537.6 575.3 3574.0 576.9 3573.3C578.5 3572.7 584.8 3527.2 586.0 3529.1C587.2 3531.0 590.3 3587.7 591.2 3596.6C592.1 3605.5 595.3 3633.0 596.4 3635.6C597.5 3638.2 602.9 3630.6 604.2 3627.8C605.5 3625.0 610.5 3604.0 612.0 3601.8C613.5 3599.6 621.1 3605.5 622.4 3601.8C623.7 3598.1 626.5 3568.3 627.6 3557.7C628.7 3547.1 634.4 3485.2 635.4 3474.6C636.4 3464.0 639.2 3436.6 640.0 3430.0C640.8 3423.4 643.7 3399.7 644.9 3395.7C646.1 3391.7 653.1 3380.7 654.5 3382.1C655.9 3383.5 659.9 3403.6 661.3 3412.0C662.7 3420.4 669.2 3482.2 670.8 3482.6C672.4 3483.0 678.7 3417.6 680.3 3417.4C681.9 3417.2 688.3 3477.4 689.8 3479.9C691.3 3482.4 696.5 3455.5 697.9 3447.3C699.3 3439.2 704.5 3386.9 706.1 3382.1C707.7 3377.3 715.4 3387.3 717.0 3390.2C718.6 3393.1 723.7 3411.1 725.1 3417.4C726.5 3423.7 731.9 3461.1 733.3 3466.3C734.7 3471.5 740.0 3481.3 741.4 3479.9C742.8 3478.5 748.0 3449.8 749.6 3450.0C751.2 3450.2 758.8 3483.0 760.4 3482.6C762.0 3482.2 767.2 3450.0 768.6 3444.6C770.0 3439.2 775.3 3416.5 776.7 3417.4C778.1 3418.3 783.5 3449.1 784.9 3455.4C786.3 3461.7 791.6 3486.7 793.0 3493.5C794.4 3500.3 799.8 3539.3 801.2 3537.0C802.6 3534.7 807.8 3478.1 809.3 3466.3C810.8 3454.5 817.5 3395.7 818.9 3395.7C820.3 3395.7 824.8 3456.8 825.7 3466.3C826.6 3475.8 828.8 3508.9 829.7 3509.8C830.6 3510.7 835.0 3481.5 836.5 3477.2C838.0 3472.9 845.8 3458.0 847.4 3458.2C849.0 3458.4 854.1 3474.2 855.5 3479.9C856.9 3485.6 862.3 3525.2 863.7 3526.1C865.1 3527.0 870.6 3499.6 871.8 3490.8C873.0 3482.0 877.2 3427.1 878.6 3420.1C880.0 3413.1 886.6 3406.5 888.2 3406.5C889.8 3406.5 896.3 3416.7 897.7 3420.1C899.1 3423.5 903.3 3445.7 904.5 3447.3C905.7 3448.9 911.1 3443.4 912.6 3439.1C914.1 3434.8 920.7 3397.5 922.1 3395.7C923.5 3393.9 927.8 3413.3 928.9 3417.4C930.0 3421.5 934.6 3443.7 935.7 3444.6C936.8 3445.5 941.5 3434.9 942.5 3428.3C943.5 3421.7 946.8 3372.4 947.9 3365.8C949.0 3359.2 954.6 3349.7 956.1 3349.5C957.6 3349.3 964.2 3363.6 965.6 3363.1C967.0 3362.6 971.4 3346.0 972.4 3344.0C973.4 3342.0 976.6 3338.8 978.2 3338.6C979.8 3338.4 989.2 3340.6 991.7 3341.3C994.2 3342.0 1005.7 3348.7 1008.0 3346.7C1010.3 3344.7 1017.1 3317.9 1018.9 3316.8C1020.7 3315.7 1027.8 3333.2 1029.8 3333.2C1031.8 3333.2 1041.4 3318.4 1043.4 3316.8C1045.4 3315.2 1052.2 3314.1 1054.2 3314.1C1056.2 3314.1 1065.5 3316.6 1067.8 3316.8C1070.1 3317.0 1079.1 3315.4 1081.4 3316.8C1083.7 3318.2 1092.5 3334.6 1095.0 3333.2C1097.5 3331.8 1109.1 3301.6 1111.3 3300.5C1113.5 3299.4 1119.2 3317.0 1120.8 3319.6C1122.4 3322.2 1128.7 3331.1 1130.3 3331.8C1131.9 3332.5 1138.2 3327.4 1139.8 3327.7C1141.4 3328.0 1147.8 3335.7 1149.3 3335.9C1150.8 3336.1 1156.0 3333.5 1157.5 3330.4C1159.0 3327.3 1165.4 3300.4 1167.0 3299.2C1168.6 3298.0 1174.8 3313.6 1176.5 3315.5C1178.2 3317.4 1185.6 3319.9 1187.4 3322.3C1189.2 3324.7 1196.5 3342.2 1198.3 3344.0C1200.1 3345.8 1207.5 3342.6 1209.1 3344.0C1210.7 3345.4 1215.9 3361.0 1217.3 3360.3C1218.7 3359.6 1224.0 3340.9 1225.4 3335.9C1226.8 3330.9 1232.2 3304.6 1233.6 3300.5C1235.0 3296.4 1240.3 3286.9 1241.7 3286.9C1243.1 3286.9 1248.5 3298.2 1249.9 3300.5C1251.3 3302.8 1256.4 3313.0 1258.0 3314.1C1259.6 3315.2 1267.2 3315.7 1268.9 3314.1C1270.6 3312.5 1276.9 3291.2 1278.4 3295.1C1279.9 3298.9 1285.3 3356.0 1286.6 3360.3C1287.9 3364.6 1292.3 3356.0 1293.5 3346.7C1294.7 3337.4 1300.4 3257.3 1301.5 3248.9C1302.6 3240.5 1306.0 3242.1 1307.0 3246.2C1308.0 3250.3 1312.5 3293.5 1313.8 3297.8C1315.1 3302.1 1320.7 3300.5 1322.2 3297.8C1323.7 3295.1 1330.0 3266.1 1331.7 3265.2C1333.4 3264.3 1340.7 3283.1 1342.6 3286.9C1344.5 3290.8 1353.0 3311.4 1354.8 3311.4C1356.6 3311.4 1362.6 3293.2 1364.3 3286.9C1366.0 3280.6 1373.6 3238.9 1375.2 3235.3C1376.8 3231.7 1382.2 3240.6 1383.4 3243.5C1384.7 3246.4 1388.8 3271.2 1390.2 3270.7C1391.6 3270.2 1398.2 3237.8 1399.7 3238.0C1401.2 3238.2 1406.3 3275.0 1407.8 3273.4C1409.3 3271.8 1415.7 3219.0 1417.3 3219.0C1418.9 3219.0 1425.3 3270.9 1426.8 3273.4C1428.3 3275.9 1433.5 3254.8 1435.0 3248.9C1436.5 3243.0 1442.9 3201.3 1444.5 3202.7C1446.1 3204.1 1452.0 3265.0 1454.0 3265.2C1456.0 3265.4 1467.0 3204.7 1469.0 3205.4C1471.0 3206.1 1476.9 3277.0 1478.5 3273.4C1480.1 3269.8 1486.4 3162.9 1488.0 3162.0C1489.6 3161.1 1495.5 3256.8 1497.5 3262.5C1499.5 3268.2 1510.1 3230.6 1512.4 3229.9C1514.7 3229.2 1522.8 3254.8 1524.7 3254.3C1526.6 3253.9 1533.9 3232.2 1535.5 3224.5C1537.1 3216.8 1542.2 3167.9 1543.7 3162.0C1545.2 3156.1 1551.6 3152.2 1553.2 3153.8C1554.8 3155.4 1561.1 3174.9 1562.7 3181.0C1564.3 3187.1 1570.6 3224.0 1572.2 3227.2C1573.8 3230.4 1580.1 3217.9 1581.7 3219.0C1583.3 3220.1 1589.6 3241.2 1591.3 3240.8C1593.0 3240.4 1600.3 3219.7 1602.2 3213.6C1604.1 3207.5 1612.6 3166.7 1614.3 3167.4C1616.0 3168.1 1621.1 3216.5 1622.5 3221.7C1623.9 3226.9 1629.1 3230.6 1630.7 3229.9C1632.3 3229.2 1639.9 3214.8 1641.5 3213.6C1643.1 3212.3 1648.4 3215.4 1650.0 3214.9C1651.6 3214.4 1658.5 3209.0 1660.4 3207.1C1662.4 3205.2 1671.5 3193.9 1673.4 3191.5C1675.4 3189.1 1682.0 3172.2 1683.8 3178.5C1685.6 3184.8 1693.7 3264.2 1695.4 3266.8C1697.1 3269.4 1703.1 3218.8 1704.5 3209.7C1705.9 3200.6 1710.9 3160.9 1712.3 3157.7C1713.7 3154.4 1719.7 3170.7 1721.4 3170.7C1723.1 3170.7 1730.8 3156.6 1733.1 3157.7C1735.4 3158.8 1746.3 3182.0 1748.7 3183.7C1751.1 3185.4 1759.9 3177.2 1761.7 3178.5C1763.5 3179.8 1769.2 3201.5 1770.7 3199.3C1772.2 3197.1 1778.1 3158.1 1779.8 3152.5C1781.5 3146.9 1789.5 3131.6 1791.5 3131.8C1793.5 3132.0 1801.1 3150.3 1803.2 3155.1C1805.3 3159.9 1814.4 3191.9 1816.2 3188.9C1818.0 3185.9 1823.9 3120.5 1825.3 3118.8C1826.7 3117.1 1831.3 3164.4 1833.1 3168.1C1834.9 3171.8 1844.9 3165.9 1847.4 3162.9C1849.9 3159.9 1860.7 3134.2 1862.9 3131.8C1865.1 3129.4 1871.2 3130.9 1873.3 3134.4C1875.4 3137.9 1885.6 3174.0 1887.6 3173.3C1889.5 3172.7 1894.9 3130.9 1896.7 3126.6C1898.5 3122.3 1907.6 3116.6 1909.7 3121.4C1911.8 3126.2 1919.7 3181.5 1921.4 3183.7C1923.1 3185.9 1928.9 3152.8 1930.4 3147.4C1931.9 3142.0 1937.8 3120.1 1939.5 3118.8C1941.2 3117.5 1949.1 3127.3 1951.2 3131.8C1953.3 3136.3 1962.0 3171.4 1964.2 3173.3C1966.4 3175.2 1975.4 3161.6 1977.2 3155.1C1979.0 3148.6 1985.0 3100.8 1986.3 3095.4C1987.6 3090.0 1992.3 3090.6 1992.8 3090.2" stroke="#000" stroke-width="6.6"/>
<path d="M307.5 2740.0C307.6 2741.1 307.9 2745.3 308.2 2752.6C308.5 2759.9 310.3 2813.0 310.8 2827.9C311.3 2842.8 314.1 2917.7 314.7 2931.8C315.3 2945.9 317.8 2987.8 318.6 2996.7C319.4 3005.6 322.6 3034.3 323.8 3038.2C325.0 3042.1 331.7 3041.5 332.8 3043.4C333.9 3045.3 336.1 3054.7 336.7 3061.6C337.3 3068.5 340.0 3118.7 340.6 3126.5C341.2 3134.3 343.6 3155.3 344.5 3155.1C345.4 3154.9 349.8 3124.8 351.0 3123.9C352.2 3123.0 357.7 3145.6 358.8 3144.7C359.9 3143.8 363.0 3118.0 364.0 3113.5C365.0 3109.0 369.3 3091.3 370.5 3090.2C371.7 3089.1 377.0 3102.1 378.3 3100.6C379.6 3099.1 384.7 3071.1 386.1 3072.0C387.5 3072.9 393.8 3111.2 395.2 3111.0C396.6 3110.8 401.7 3070.5 403.0 3069.4C404.3 3068.3 409.3 3092.4 410.7 3098.0C412.1 3103.6 418.5 3136.9 419.8 3136.9C421.1 3136.9 425.0 3101.5 426.3 3098.0C427.6 3094.5 434.0 3094.5 435.4 3095.4C436.8 3096.3 441.9 3104.6 443.2 3108.3C444.5 3112.0 449.7 3134.3 451.0 3139.5C452.3 3144.7 457.5 3166.6 458.8 3170.7C460.1 3174.8 465.4 3188.9 466.6 3188.9C467.8 3188.9 471.9 3173.3 473.1 3170.7C474.3 3168.1 479.5 3155.2 480.9 3157.8C482.3 3160.4 488.6 3197.0 490.0 3201.9C491.4 3206.8 496.4 3216.8 497.7 3216.2C499.0 3215.5 504.0 3196.4 505.5 3194.1C507.0 3191.8 514.3 3188.7 515.9 3189.0C517.5 3189.3 523.6 3194.3 525.0 3198.0C526.4 3201.7 531.4 3231.7 532.8 3233.1C534.2 3234.5 540.4 3214.0 541.9 3214.9C543.4 3215.8 549.5 3239.4 551.0 3243.5C552.5 3247.6 558.8 3261.9 560.1 3264.3C561.4 3266.7 565.4 3273.5 566.5 3272.0C567.6 3270.5 571.8 3250.9 573.0 3246.1C574.2 3241.3 579.3 3216.0 580.8 3214.9C582.3 3213.8 589.6 3229.0 591.2 3233.1C592.8 3237.2 599.1 3262.6 600.3 3264.3C601.5 3266.0 604.4 3260.8 605.5 3253.9C606.6 3247.0 612.0 3186.0 613.3 3181.2C614.6 3176.4 619.9 3196.3 621.1 3196.7C622.3 3197.1 626.4 3192.5 627.6 3186.4C628.8 3180.3 634.1 3130.0 635.4 3123.9C636.7 3117.8 642.2 3112.8 643.6 3113.0C645.0 3113.2 650.6 3124.6 651.7 3126.6C652.8 3128.6 656.1 3136.1 657.2 3137.5C658.3 3138.9 664.1 3139.7 665.3 3142.9C666.5 3146.1 670.9 3174.8 672.1 3175.5C673.4 3176.2 679.2 3150.0 680.3 3151.1C681.4 3152.2 684.8 3183.0 685.7 3189.1C686.6 3195.2 690.1 3224.0 691.1 3224.5C692.1 3225.0 696.9 3205.0 697.9 3194.6C698.9 3184.2 702.5 3109.9 703.4 3099.5C704.3 3089.1 707.8 3068.7 708.8 3069.6C709.8 3070.5 714.4 3106.3 715.6 3110.3C716.9 3114.3 722.3 3117.1 723.8 3117.1C725.3 3117.1 731.7 3110.5 733.3 3110.3C734.9 3110.1 741.4 3116.4 742.8 3114.4C744.2 3112.4 748.6 3083.8 749.6 3085.9C750.6 3088.1 754.1 3133.6 755.0 3140.2C755.9 3146.8 759.3 3167.0 760.4 3164.7C761.5 3162.4 767.2 3123.6 768.6 3113.0C770.0 3102.4 775.5 3039.3 776.7 3037.0C777.9 3034.7 782.1 3076.2 783.5 3085.9C784.9 3095.6 791.5 3143.8 793.0 3153.8C794.5 3163.8 799.7 3206.5 801.2 3205.4C802.7 3204.3 809.2 3155.4 810.7 3140.2C812.2 3125.0 817.6 3029.7 818.9 3023.4C820.1 3017.1 824.6 3054.4 825.7 3064.1C826.8 3073.8 831.4 3131.6 832.4 3140.2C833.4 3148.8 836.9 3168.5 837.9 3167.4C838.9 3166.3 843.5 3129.8 844.7 3126.6C845.9 3123.4 851.6 3124.8 852.8 3129.3C854.0 3133.8 858.6 3173.5 859.6 3181.0C860.6 3188.5 864.1 3217.9 865.1 3219.0C866.1 3220.1 870.7 3202.1 871.8 3194.6C872.9 3187.1 877.2 3135.2 878.6 3129.3C880.0 3123.4 886.7 3127.3 888.2 3123.9C889.7 3120.5 895.2 3089.0 896.3 3088.6C897.4 3088.2 900.8 3113.1 901.7 3118.5C902.6 3123.9 906.1 3152.9 907.2 3153.8C908.3 3154.7 914.1 3132.6 915.3 3129.3C916.5 3126.0 921.0 3113.5 922.1 3114.4C923.2 3115.3 927.3 3137.7 928.9 3140.2C930.5 3142.7 939.6 3147.5 941.1 3144.3C942.6 3141.1 945.6 3109.1 946.6 3102.2C947.6 3095.3 952.2 3065.7 953.4 3061.4C954.6 3057.1 960.4 3052.3 961.5 3050.5C962.6 3048.7 966.1 3042.6 967.0 3039.7C967.9 3036.8 971.6 3017.2 972.4 3015.2C973.2 3013.2 975.9 3009.3 976.8 3015.2C977.7 3021.1 982.4 3081.1 983.6 3085.9C984.8 3090.7 990.3 3072.1 991.7 3072.3C993.1 3072.5 998.3 3091.5 999.9 3088.6C1001.5 3085.7 1009.2 3039.9 1010.8 3037.0C1012.4 3034.1 1017.5 3050.1 1018.9 3053.3C1020.3 3056.5 1025.7 3074.8 1027.1 3075.0C1028.5 3075.2 1033.2 3059.8 1035.2 3056.0C1037.2 3052.2 1049.1 3025.9 1051.5 3028.8C1053.9 3031.7 1062.1 3088.4 1063.8 3091.3C1065.5 3094.2 1070.4 3066.8 1071.9 3064.1C1073.4 3061.4 1079.9 3057.8 1081.4 3058.7C1082.9 3059.6 1088.3 3071.2 1089.6 3075.0C1090.8 3078.8 1094.9 3103.5 1096.4 3104.9C1097.9 3106.3 1105.3 3093.1 1107.2 3091.3C1109.1 3089.5 1117.6 3082.1 1119.5 3083.2C1121.4 3084.3 1128.6 3101.2 1130.3 3104.9C1132.0 3108.6 1138.2 3127.9 1139.8 3128.0C1141.4 3128.1 1147.6 3107.6 1149.3 3106.3C1151.0 3105.1 1158.0 3111.6 1160.2 3113.0C1162.4 3114.4 1173.2 3122.9 1175.2 3122.6C1177.2 3122.3 1182.4 3110.2 1184.7 3109.0C1187.0 3107.8 1200.3 3104.1 1202.3 3107.6C1204.3 3111.1 1207.8 3144.1 1209.1 3151.1C1210.3 3158.1 1215.9 3192.7 1217.3 3191.8C1218.7 3190.9 1223.9 3147.4 1225.4 3140.2C1226.9 3133.0 1233.4 3105.3 1235.0 3104.9C1236.6 3104.5 1242.6 3129.6 1244.5 3134.8C1246.4 3140.0 1256.0 3165.8 1258.0 3167.4C1260.0 3169.0 1267.1 3155.2 1268.9 3153.8C1270.7 3152.4 1278.1 3146.1 1279.8 3151.1C1281.5 3156.1 1287.8 3210.0 1289.3 3213.6C1290.8 3217.2 1295.9 3202.8 1297.4 3194.6C1298.9 3186.4 1305.5 3120.3 1307.0 3115.8C1308.5 3111.3 1313.9 3136.8 1315.1 3140.2C1316.3 3143.6 1319.5 3157.4 1320.9 3156.5C1322.3 3155.6 1329.7 3133.6 1331.7 3129.3C1333.7 3125.0 1343.4 3104.4 1345.3 3104.9C1347.2 3105.4 1353.2 3129.8 1354.8 3134.8C1356.4 3139.8 1362.6 3166.1 1364.3 3164.7C1366.0 3163.3 1373.6 3120.1 1375.2 3118.5C1376.8 3116.9 1381.8 3143.0 1383.4 3145.7C1385.0 3148.4 1392.4 3153.4 1394.2 3151.1C1396.0 3148.8 1403.3 3125.5 1405.1 3118.5C1406.9 3111.5 1414.4 3067.3 1416.0 3066.8C1417.6 3066.3 1422.6 3104.4 1424.1 3113.0C1425.6 3121.6 1431.9 3168.5 1433.6 3170.1C1435.3 3171.7 1442.8 3132.8 1444.5 3132.1C1446.2 3131.4 1452.3 3160.9 1454.0 3162.0C1455.7 3163.1 1462.9 3151.6 1464.9 3145.7C1466.9 3139.8 1476.7 3097.4 1478.5 3091.3C1480.3 3085.2 1485.2 3070.5 1486.6 3072.3C1488.0 3074.1 1493.4 3105.1 1494.8 3113.0C1496.2 3120.9 1501.5 3162.6 1502.9 3167.4C1504.3 3172.2 1509.5 3167.2 1511.1 3170.1C1512.7 3173.0 1520.4 3202.5 1522.0 3202.7C1523.6 3202.9 1528.6 3178.5 1530.1 3172.8C1531.6 3167.1 1538.0 3137.7 1539.6 3134.8C1541.2 3131.9 1547.1 3137.1 1549.1 3137.5C1551.1 3137.9 1562.2 3137.5 1564.1 3140.2C1566.0 3142.9 1570.7 3170.1 1572.2 3170.1C1573.7 3170.1 1579.9 3137.5 1581.7 3140.2C1583.5 3142.9 1592.1 3199.3 1594.0 3202.7C1595.9 3206.1 1603.1 3184.8 1604.8 3181.0C1606.5 3177.2 1612.8 3155.6 1614.3 3156.5C1615.8 3157.4 1621.1 3185.9 1622.5 3191.8C1623.9 3197.7 1629.5 3225.6 1630.7 3227.2C1632.0 3228.8 1636.5 3217.7 1637.5 3210.9C1638.5 3204.1 1641.8 3147.1 1642.9 3145.7C1644.0 3144.3 1649.9 3192.3 1651.1 3194.6C1652.3 3196.9 1656.6 3173.3 1657.8 3173.3C1659.0 3173.3 1664.3 3192.2 1665.6 3194.1C1666.9 3196.0 1671.8 3199.9 1673.4 3196.7C1675.0 3193.4 1683.6 3154.9 1685.1 3155.1C1686.6 3155.3 1690.5 3191.7 1691.5 3199.3C1692.5 3206.9 1695.8 3243.8 1696.7 3246.0C1697.6 3248.2 1700.8 3231.4 1701.9 3225.3C1703.0 3219.2 1708.2 3180.0 1709.7 3173.3C1711.2 3166.6 1718.1 3147.6 1720.1 3144.8C1722.0 3142.0 1731.4 3139.4 1733.1 3139.6C1734.8 3139.8 1739.6 3144.2 1740.9 3147.4C1742.2 3150.6 1747.4 3175.3 1748.7 3178.5C1750.0 3181.7 1755.2 3183.7 1756.5 3186.3C1757.8 3188.9 1763.1 3205.6 1764.3 3209.7C1765.5 3213.8 1769.6 3235.6 1770.7 3235.6C1771.8 3235.6 1776.0 3215.5 1777.2 3209.7C1778.4 3203.9 1783.3 3169.2 1785.0 3165.5C1786.7 3161.8 1796.0 3164.8 1798.0 3165.5C1800.0 3166.2 1806.8 3170.1 1808.4 3173.3C1810.0 3176.6 1816.0 3204.1 1817.5 3204.5C1819.0 3204.9 1825.0 3181.1 1826.6 3178.5C1828.2 3175.9 1835.3 3172.9 1837.0 3173.3C1838.7 3173.7 1845.7 3182.2 1847.4 3183.7C1849.1 3185.2 1856.0 3194.7 1857.7 3191.5C1859.4 3188.3 1866.6 3148.1 1868.1 3144.8C1869.6 3141.6 1874.4 3149.5 1875.9 3152.5C1877.4 3155.5 1884.3 3179.6 1886.3 3181.1C1888.2 3182.6 1896.9 3172.2 1899.3 3170.7C1901.7 3169.2 1912.7 3163.1 1914.9 3162.9C1917.1 3162.7 1923.6 3169.4 1925.3 3168.1C1927.0 3166.8 1933.9 3149.1 1935.6 3147.4C1937.3 3145.7 1944.3 3145.7 1946.0 3147.4C1947.7 3149.1 1954.8 3165.0 1956.4 3168.1C1958.0 3171.2 1964.0 3185.2 1965.5 3185.0C1967.0 3184.8 1973.1 3171.0 1974.6 3165.5C1976.1 3160.0 1982.2 3119.9 1983.7 3118.8C1985.2 3117.7 1992.0 3149.7 1992.8 3152.5" stroke="#B68F1E" stroke-width="6.6"/>
</g>
<line x1="245.4" y1="53.8" x2="245.4" y2="1096.2" stroke="#000" stroke-width="5.0"/>
<line x1="1992.5" y1="53.8" x2="1992.5" y2="1096.2" stroke="#000" stroke-width="6.0"/>
<line x1="223.5" y1="55.6" x2="1995.5" y2="55.6" stroke="#000" stroke-width="3.6"/>
<line x1="223.5" y1="1079.2" x2="1995.5" y2="1079.2" stroke="#000" stroke-width="4.0"/>
<line x1="223.5" y1="55.6" x2="245.4" y2="55.6" stroke="#000" stroke-width="3.6"/>
<text x="186.5" y="72.8" text-anchor="end" font-family="'Liberation Sans', 'DejaVu Sans', sans-serif" font-weight="bold" font-size="48" fill="#595959" textLength="66.0" lengthAdjust="spacingAndGlyphs">65</text>
<line x1="223.5" y1="396.8" x2="245.4" y2="396.8" stroke="#000" stroke-width="3.6"/>
<text x="186.5" y="414.0" text-anchor="end" font-family="'Liberation Sans', 'DejaVu Sans', sans-serif" font-weight="bold" font-size="48" fill="#595959" textLength="66.0" lengthAdjust="spacingAndGlyphs">55</text>
<line x1="223.5" y1="738.0" x2="245.4" y2="738.0" stroke="#000" stroke-width="3.6"/>
<text x="186.5" y="755.2" text-anchor="end" font-family="'Liberation Sans', 'DejaVu Sans', sans-serif" font-weight="bold" font-size="48" fill="#595959" textLength="66.0" lengthAdjust="spacingAndGlyphs">45</text>
<line x1="223.5" y1="1079.2" x2="245.4" y2="1079.2" stroke="#000" stroke-width="3.6"/>
<text x="186.5" y="1096.4" text-anchor="end" font-family="'Liberation Sans', 'DejaVu Sans', sans-serif" font-weight="bold" font-size="48" fill="#595959" textLength="66.0" lengthAdjust="spacingAndGlyphs">35</text>
<text x="245.4" y="1163.5" text-anchor="middle" font-family="'Liberation Sans', 'DejaVu Sans', sans-serif" font-weight="bold" font-size="48" fill="#595959" textLength="33.0" lengthAdjust="spacingAndGlyphs">0</text>
<line x1="332.8" y1="1079.2" x2="332.8" y2="1092.7" stroke="#000" stroke-width="4"/>
<line x1="420.1" y1="1079.2" x2="420.1" y2="1092.7" stroke="#000" stroke-width="4"/>
<line x1="507.5" y1="1079.2" x2="507.5" y2="1092.7" stroke="#000" stroke-width="4"/>
<line x1="594.8" y1="1079.2" x2="594.8" y2="1092.7" stroke="#000" stroke-width="4"/>
<line x1="682.2" y1="1079.2" x2="682.2" y2="1095.7" stroke="#000" stroke-width="5.5"/>
<text x="682.2" y="1163.5" text-anchor="middle" font-family="'Liberation Sans', 'DejaVu Sans', sans-serif" font-weight="bold" font-size="48" fill="#595959" textLength="33.0" lengthAdjust="spacingAndGlyphs">5</text>
<line x1="769.5" y1="1079.2" x2="769.5" y2="1092.7" stroke="#000" stroke-width="4"/>
<line x1="856.9" y1="1079.2" x2="856.9" y2="1092.7" stroke="#000" stroke-width="4"/>
<line x1="944.2" y1="1079.2" x2="944.2" y2="1092.7" stroke="#000" stroke-width="4"/>
<line x1="1031.6" y1="1079.2" x2="1031.6" y2="1092.7" stroke="#000" stroke-width="4"/>
<line x1="1119.0" y1="1079.2" x2="1119.0" y2="1095.7" stroke="#000" stroke-width="5.5"/>
<text x="1119.0" y="1163.5" text-anchor="middle" font-family="'Liberation Sans', 'DejaVu Sans', sans-serif" font-weight="bold" font-size="48" fill="#595959" textLength="66.0" lengthAdjust="spacingAndGlyphs">10</text>
<line x1="1206.3" y1="1079.2" x2="1206.3" y2="1092.7" stroke="#000" stroke-width="4"/>
<line x1="1293.7" y1="1079.2" x2="1293.7" y2="1092.7" stroke="#000" stroke-width="4"/>
<line x1="1381.0" y1="1079.2" x2="1381.0" y2="1092.7" stroke="#000" stroke-width="4"/>
<line x1="1468.4" y1="1079.2" x2="1468.4" y2="1092.7" stroke="#000" stroke-width="4"/>
<line x1="1555.7" y1="1079.2" x2="1555.7" y2="1095.7" stroke="#000" stroke-width="5.5"/>
<text x="1555.7" y="1163.5" text-anchor="middle" font-family="'Liberation Sans', 'DejaVu Sans', sans-serif" font-weight="bold" font-size="48" fill="#595959" textLength="66.0" lengthAdjust="spacingAndGlyphs">15</text>
<line x1="1643.1" y1="1079.2" x2="1643.1" y2="1092.7" stroke="#000" stroke-width="4"/>
<line x1="1730.4" y1="1079.2" x2="1730.4" y2="1092.7" stroke="#000" stroke-width="4"/>
<line x1="1817.8" y1="1079.2" x2="1817.8" y2="1092.7" stroke="#000" stroke-width="4"/>
<line x1="1905.1" y1="1079.2" x2="1905.1" y2="1092.7" stroke="#000" stroke-width="4"/>
<text x="1992.5" y="1163.5" text-anchor="middle" font-family="'Liberation Sans', 'DejaVu Sans', sans-serif" font-weight="bold" font-size="48" fill="#595959" textLength="66.0" lengthAdjust="spacingAndGlyphs">20</text>
<line x1="279.2" y1="1419.0" x2="279.2" y2="2434.2" stroke="#000" stroke-width="3.6"/>
<line x1="1992.8" y1="1419.0" x2="1992.8" y2="2434.2" stroke="#000" stroke-width="6.0"/>
<line x1="258.8" y1="1421.2" x2="1995.8" y2="1421.2" stroke="#000" stroke-width="4.5"/>
<line x1="258.8" y1="2417.2" x2="1995.8" y2="2417.2" stroke="#000" stroke-width="4.0"/>
<line x1="258.8" y1="1421.2" x2="279.2" y2="1421.2" stroke="#000" stroke-width="3.6"/>
<text x="220.0" y="1438.4" text-anchor="end" font-family="'Liberation Sans', 'DejaVu Sans', sans-serif" font-weight="bold" font-size="48" fill="#595959" textLength="66.0" lengthAdjust="spacingAndGlyphs">20</text>
<line x1="258.8" y1="1670.2" x2="279.2" y2="1670.2" stroke="#000" stroke-width="3.6"/>
<text x="220.0" y="1687.4" text-anchor="end" font-family="'Liberation Sans', 'DejaVu Sans', sans-serif" font-weight="bold" font-size="48" fill="#595959" textLength="66.0" lengthAdjust="spacingAndGlyphs">15</text>
<line x1="258.8" y1="1919.2" x2="279.2" y2="1919.2" stroke="#000" stroke-width="3.6"/>
<text x="220.0" y="1936.4" text-anchor="end" font-family="'Liberation Sans', 'DejaVu Sans', sans-serif" font-weight="bold" font-size="48" fill="#595959" textLength="66.0" lengthAdjust="spacingAndGlyphs">10</text>
<line x1="258.8" y1="2168.2" x2="279.2" y2="2168.2" stroke="#000" stroke-width="3.6"/>
<text x="220.0" y="2185.4" text-anchor="end" font-family="'Liberation Sans', 'DejaVu Sans', sans-serif" font-weight="bold" font-size="48" fill="#595959" textLength="33.0" lengthAdjust="spacingAndGlyphs">5</text>
<line x1="258.8" y1="2417.2" x2="279.2" y2="2417.2" stroke="#000" stroke-width="3.6"/>
<text x="220.0" y="2434.4" text-anchor="end" font-family="'Liberation Sans', 'DejaVu Sans', sans-serif" font-weight="bold" font-size="48" fill="#595959" textLength="33.0" lengthAdjust="spacingAndGlyphs">0</text>
<text x="279.2" y="2501.8" text-anchor="middle" font-family="'Liberation Sans', 'DejaVu Sans', sans-serif" font-weight="bold" font-size="48" fill="#595959" textLength="33.0" lengthAdjust="spacingAndGlyphs">0</text>
<line x1="364.9" y1="2417.2" x2="364.9" y2="2430.7" stroke="#000" stroke-width="4"/>
<line x1="450.6" y1="2417.2" x2="450.6" y2="2430.7" stroke="#000" stroke-width="4"/>
<line x1="536.2" y1="2417.2" x2="536.2" y2="2430.7" stroke="#000" stroke-width="4"/>
<line x1="621.9" y1="2417.2" x2="621.9" y2="2430.7" stroke="#000" stroke-width="4"/>
<line x1="707.6" y1="2417.2" x2="707.6" y2="2433.7" stroke="#000" stroke-width="5.5"/>
<text x="707.6" y="2501.8" text-anchor="middle" font-family="'Liberation Sans', 'DejaVu Sans', sans-serif" font-weight="bold" font-size="48" fill="#595959" textLength="33.0" lengthAdjust="spacingAndGlyphs">5</text>
<line x1="793.3" y1="2417.2" x2="793.3" y2="2430.7" stroke="#000" stroke-width="4"/>
<line x1="879.0" y1="2417.2" x2="879.0" y2="2430.7" stroke="#000" stroke-width="4"/>
<line x1="964.6" y1="2417.2" x2="964.6" y2="2430.7" stroke="#000" stroke-width="4"/>
<line x1="1050.3" y1="2417.2" x2="1050.3" y2="2430.7" stroke="#000" stroke-width="4"/>
<line x1="1136.0" y1="2417.2" x2="1136.0" y2="2433.7" stroke="#000" stroke-width="5.5"/>
<text x="1136.0" y="2501.8" text-anchor="middle" font-family="'Liberation Sans', 'DejaVu Sans', sans-serif" font-weight="bold" font-size="48" fill="#595959" textLength="66.0" lengthAdjust="spacingAndGlyphs">10</text>
<line x1="1221.7" y1="2417.2" x2="1221.7" y2="2430.7" stroke="#000" stroke-width="4"/>
<line x1="1307.4" y1="2417.2" x2="1307.4" y2="2430.7" stroke="#000" stroke-width="4"/>
<line x1="1393.0" y1="2417.2" x2="1393.0" y2="2430.7" stroke="#000" stroke-width="4"/>
<line x1="1478.7" y1="2417.2" x2="1478.7" y2="2430.7" stroke="#000" stroke-width="4"/>
<line x1="1564.4" y1="2417.2" x2="1564.4" y2="2433.7" stroke="#000" stroke-width="5.5"/>
<text x="1564.4" y="2501.8" text-anchor="middle" font-family="'Liberation Sans', 'DejaVu Sans', sans-serif" font-weight="bold" font-size="48" fill="#595959" textLength="66.0" lengthAdjust="spacingAndGlyphs">15</text>
<line x1="1650.1" y1="2417.2" x2="1650.1" y2="2430.7" stroke="#000" stroke-width="4"/>
<line x1="1735.8" y1="2417.2" x2="1735.8" y2="2430.7" stroke="#000" stroke-width="4"/>
<line x1="1821.4" y1="2417.2" x2="1821.4" y2="2430.7" stroke="#000" stroke-width="4"/>
<line x1="1907.1" y1="2417.2" x2="1907.1" y2="2430.7" stroke="#000" stroke-width="4"/>
<text x="1992.8" y="2501.8" text-anchor="middle" font-family="'Liberation Sans', 'DejaVu Sans', sans-serif" font-weight="bold" font-size="48" fill="#595959" textLength="66.0" lengthAdjust="spacingAndGlyphs">20</text>
<line x1="296.6" y1="2751.1" x2="296.6" y2="3771.8" stroke="#000" stroke-width="6.0"/>
<line x1="1992.4" y1="2751.1" x2="1992.4" y2="3771.8" stroke="#000" stroke-width="6.0"/>
<line x1="275.0" y1="2753.1" x2="1995.4" y2="2753.1" stroke="#000" stroke-width="4.0"/>
<line x1="275.0" y1="3754.8" x2="1995.4" y2="3754.8" stroke="#000" stroke-width="4.0"/>
<line x1="275.0" y1="2753.1" x2="296.6" y2="2753.1" stroke="#000" stroke-width="3.6"/>
<text x="238.8" y="2770.3" text-anchor="end" font-family="'Liberation Sans', 'DejaVu Sans', sans-serif" font-weight="bold" font-size="48" fill="#595959" textLength="66.0" lengthAdjust="spacingAndGlyphs">60</text>
<line x1="275.0" y1="3003.5" x2="296.6" y2="3003.5" stroke="#000" stroke-width="3.6"/>
<text x="238.8" y="3020.7" text-anchor="end" font-family="'Liberation Sans', 'DejaVu Sans', sans-serif" font-weight="bold" font-size="48" fill="#595959" textLength="66.0" lengthAdjust="spacingAndGlyphs">50</text>
<line x1="275.0" y1="3253.9" x2="296.6" y2="3253.9" stroke="#000" stroke-width="3.6"/>
<text x="238.8" y="3271.1" text-anchor="end" font-family="'Liberation Sans', 'DejaVu Sans', sans-serif" font-weight="bold" font-size="48" fill="#595959" textLength="66.0" lengthAdjust="spacingAndGlyphs">40</text>
<line x1="275.0" y1="3504.4" x2="296.6" y2="3504.4" stroke="#000" stroke-width="3.6"/>
<text x="238.8" y="3521.6" text-anchor="end" font-family="'Liberation Sans', 'DejaVu Sans', sans-serif" font-weight="bold" font-size="48" fill="#595959" textLength="66.0" lengthAdjust="spacingAndGlyphs">30</text>
<line x1="275.0" y1="3754.8" x2="296.6" y2="3754.8" stroke="#000" stroke-width="3.6"/>
<text x="238.8" y="3772.0" text-anchor="end" font-family="'Liberation Sans', 'DejaVu Sans', sans-serif" font-weight="bold" font-size="48" fill="#595959" textLength="66.0" lengthAdjust="spacingAndGlyphs">20</text>
<text x="296.6" y="3839.0" text-anchor="middle" font-family="'Liberation Sans', 'DejaVu Sans', sans-serif" font-weight="bold" font-size="48" fill="#595959" textLength="33.0" lengthAdjust="spacingAndGlyphs">0</text>
<line x1="381.4" y1="3754.8" x2="381.4" y2="3768.3" stroke="#000" stroke-width="4"/>
<line x1="466.2" y1="3754.8" x2="466.2" y2="3768.3" stroke="#000" stroke-width="4"/>
<line x1="551.0" y1="3754.8" x2="551.0" y2="3768.3" stroke="#000" stroke-width="4"/>
<line x1="635.8" y1="3754.8" x2="635.8" y2="3768.3" stroke="#000" stroke-width="4"/>
<line x1="720.6" y1="3754.8" x2="720.6" y2="3771.3" stroke="#000" stroke-width="5.5"/>
<text x="720.6" y="3839.0" text-anchor="middle" font-family="'Liberation Sans', 'DejaVu Sans', sans-serif" font-weight="bold" font-size="48" fill="#595959" textLength="33.0" lengthAdjust="spacingAndGlyphs">5</text>
<line x1="805.3" y1="3754.8" x2="805.3" y2="3768.3" stroke="#000" stroke-width="4"/>
<line x1="890.1" y1="3754.8" x2="890.1" y2="3768.3" stroke="#000" stroke-width="4"/>
<line x1="974.9" y1="3754.8" x2="974.9" y2="3768.3" stroke="#000" stroke-width="4"/>
<line x1="1059.7" y1="3754.8" x2="1059.7" y2="3768.3" stroke="#000" stroke-width="4"/>
<line x1="1144.5" y1="3754.8" x2="1144.5" y2="3771.3" stroke="#000" stroke-width="5.5"/>
<text x="1144.5" y="3839.0" text-anchor="middle" font-family="'Liberation Sans', 'DejaVu Sans', sans-serif" font-weight="bold" font-size="48" fill="#595959" textLength="66.0" lengthAdjust="spacingAndGlyphs">10</text>
<line x1="1229.3" y1="3754.8" x2="1229.3" y2="3768.3" stroke="#000" stroke-width="4"/>
<line x1="1314.1" y1="3754.8" x2="1314.1" y2="3768.3" stroke="#000" stroke-width="4"/>
<line x1="1398.9" y1="3754.8" x2="1398.9" y2="3768.3" stroke="#000" stroke-width="4"/>
<line x1="1483.7" y1="3754.8" x2="1483.7" y2="3768.3" stroke="#000" stroke-width="4"/>
<line x1="1568.5" y1="3754.8" x2="1568.5" y2="3771.3" stroke="#000" stroke-width="5.5"/>
<text x="1568.5" y="3839.0" text-anchor="middle" font-family="'Liberation Sans', 'DejaVu Sans', sans-serif" font-weight="bold" font-size="48" fill="#595959" textLength="66.0" lengthAdjust="spacingAndGlyphs">15</text>
<line x1="1653.2" y1="3754.8" x2="1653.2" y2="3768.3" stroke="#000" stroke-width="4"/>
<line x1="1738.0" y1="3754.8" x2="1738.0" y2="3768.3" stroke="#000" stroke-width="4"/>
<line x1="1822.8" y1="3754.8" x2="1822.8" y2="3768.3" stroke="#000" stroke-width="4"/>
<line x1="1907.6" y1="3754.8" x2="1907.6" y2="3768.3" stroke="#000" stroke-width="4"/>
<text x="1992.4" y="3839.0" text-anchor="middle" font-family="'Liberation Sans', 'DejaVu Sans', sans-serif" font-weight="bold" font-size="48" fill="#595959" textLength="66.0" lengthAdjust="spacingAndGlyphs">20</text>
<text x="890.03" y="1237.50" font-family="'DejaVu Sans', 'Liberation Sans', sans-serif" font-weight="normal" font-size="63.50" fill="#000" textLength="614.05" lengthAdjust="spacingAndGlyphs" stroke="#fff" stroke-width="1.0" letter-spacing="2">Frequency (GHz)</text>
<text x="904.62" y="2576.80" font-family="'DejaVu Sans', 'Liberation Sans', sans-serif" font-weight="normal" font-size="63.50" fill="#000" textLength="614.07" lengthAdjust="spacingAndGlyphs" stroke="#fff" stroke-width="1.0" letter-spacing="2">Frequency (GHz)</text>
<text x="871.91" y="3927.60" font-family="'DejaVu Sans', 'Liberation Sans', sans-serif" font-weight="normal" font-size="63.50" fill="#000" textLength="614.56" lengthAdjust="spacingAndGlyphs" stroke="#fff" stroke-width="1.0" letter-spacing="2">Frequency (GHz)</text>
<text transform="translate(117.20 649.22) rotate(-90)" x="0" y="0" font-family="'DejaVu Sans', 'Liberation Sans', sans-serif" font-size="79.40" fill="#000" textLength="370.52" lengthAdjust="spacingAndGlyphs" stroke="#fff" stroke-width="1.6">Total SE (dB)</text>
<text transform="translate(100.70 2113.14) rotate(-90)" x="0" y="0" font-family="'DejaVu Sans', 'Liberation Sans', sans-serif" font-size="82.90" fill="#000" textLength="522.85" lengthAdjust="spacingAndGlyphs" stroke="#fff" stroke-width="1.6">Reflection SE (dB)</text>
<text transform="translate(100.60 3484.42) rotate(-90)" x="0" y="0" font-family="'DejaVu Sans', 'Liberation Sans', sans-serif" font-size="82.60" fill="#000" textLength="558.70" lengthAdjust="spacingAndGlyphs" stroke="#fff" stroke-width="1.6">Absorption SE (dB)</text>
<line x1="1191.5" y1="290.8" x2="1134.0" y2="414.4" stroke="#6a6a6a" stroke-width="2.6"/><polygon points="1127.7,428.0 1126.3,410.8 1141.7,418.0" fill="#111"/>
<line x1="1027.1" y1="894.0" x2="1077.0" y2="776.0" stroke="#6a6a6a" stroke-width="2.6"/><polygon points="1082.8,762.2 1084.8,779.3 1069.1,772.7" fill="#111"/>
<line x1="1161.6" y1="1778.0" x2="1198.5" y2="1844.1" stroke="#6a6a6a" stroke-width="2.6"/><polygon points="1205.8,1857.2 1191.1,1848.2 1205.9,1840.0" fill="#111"/>
<line x1="991.1" y1="2249.1" x2="1041.5" y2="2170.7" stroke="#6a6a6a" stroke-width="2.6"/><polygon points="1049.6,2158.1 1048.6,2175.3 1034.3,2166.1" fill="#111"/>
<line x1="1286.6" y1="2955.4" x2="1239.7" y2="3036.2" stroke="#6a6a6a" stroke-width="2.6"/><polygon points="1232.2,3049.2 1232.4,3032.0 1247.1,3040.5" fill="#111"/>
<line x1="1162.9" y1="3557.3" x2="1124.2" y2="3391.2" stroke="#6a6a6a" stroke-width="2.6"/><polygon points="1120.8,3376.6 1132.5,3389.3 1115.9,3393.1" fill="#111"/>
<rect x="894.7" y="185.9" width="677.0" height="101.5" fill="#fff"/><rect x="894.7" y="185.9" width="677.0" height="3.0" fill="#111"/><rect x="894.7" y="284.4" width="677.0" height="3.0" fill="#111"/><rect x="894.7" y="185.9" width="3.5" height="101.5" fill="#000"/><rect x="1568.2" y="185.9" width="3.5" height="101.5" fill="#111"/>
<text x="918.58" y="262.30" font-family="'DejaVu Sans', 'Liberation Sans', sans-serif" font-weight="normal" font-size="67.50" fill="#000" textLength="625.10" lengthAdjust="spacingAndGlyphs" stroke="#fff" stroke-width="1.0" letter-spacing="2">Ag-coated c-NFs</text>
<rect x="865.6" y="898.0" width="561.6" height="99.1" fill="#fff"/><rect x="865.6" y="898.0" width="561.6" height="3.0" fill="#777"/><rect x="865.6" y="993.7" width="561.6" height="3.4" fill="#000"/><rect x="865.6" y="898.0" width="3.0" height="99.1" fill="#000"/><rect x="1424.2" y="898.0" width="3.0" height="99.1" fill="#000"/>
<text x="887.57" y="971.20" font-family="'DejaVu Sans', 'Liberation Sans', sans-serif" font-weight="normal" font-size="67.50" fill="#000" textLength="479.91" lengthAdjust="spacingAndGlyphs" stroke="#fff" stroke-width="1.0" letter-spacing="2">Native c-NFs</text>
<rect x="917.8" y="1681.1" width="560.8" height="101.3" fill="#fff"/><rect x="917.8" y="1681.1" width="560.8" height="2.8" fill="#7a7a7a"/><rect x="917.8" y="1777.2" width="560.8" height="5.2" fill="#bbb"/><rect x="917.8" y="1681.1" width="3.0" height="101.3" fill="#000"/><rect x="1475.6" y="1681.1" width="3.0" height="101.3" fill="#000"/>
<text x="940.39" y="1754.30" font-family="'DejaVu Sans', 'Liberation Sans', sans-serif" font-weight="normal" font-size="67.50" fill="#000" textLength="477.55" lengthAdjust="spacingAndGlyphs" stroke="#fff" stroke-width="1.0" letter-spacing="2">Native c-NFs</text>
<rect x="673.0" y="2248.9" width="679.8" height="102.0" fill="#fff"/><rect x="673.0" y="2248.9" width="679.8" height="2.8" fill="#333"/><rect x="673.0" y="2347.9" width="679.8" height="3.0" fill="#000"/><rect x="673.0" y="2248.9" width="2.8" height="102.0" fill="#000"/><rect x="1349.8" y="2248.9" width="3.0" height="102.0" fill="#000"/>
<text x="697.78" y="2326.30" font-family="'DejaVu Sans', 'Liberation Sans', sans-serif" font-weight="normal" font-size="67.50" fill="#000" textLength="623.61" lengthAdjust="spacingAndGlyphs" stroke="#fff" stroke-width="1.0" letter-spacing="2">Ag-coated c-NFs</text>
<rect x="1010.6" y="2855.1" width="686.3" height="102.5" fill="#fff"/><rect x="1010.6" y="2855.1" width="686.3" height="2.9" fill="#707070"/><rect x="1010.6" y="2954.7" width="686.3" height="2.9" fill="#303030"/><rect x="1010.6" y="2855.1" width="3.0" height="102.5" fill="#000"/><rect x="1691.2" y="2855.1" width="5.7" height="102.5" fill="#7a7a7a"/>
<text x="1037.17" y="2934.00" font-family="'DejaVu Sans', 'Liberation Sans', sans-serif" font-weight="normal" font-size="67.50" fill="#000" textLength="622.11" lengthAdjust="spacingAndGlyphs" stroke="#fff" stroke-width="1.0" letter-spacing="2">Ag-coated c-NFs</text>
<rect x="991.2" y="3557.9" width="538.8" height="102.8" fill="#fff"/><rect x="991.2" y="3557.9" width="538.8" height="2.9" fill="#111"/><rect x="991.2" y="3657.8" width="538.8" height="2.9" fill="#555"/><rect x="991.2" y="3557.9" width="3.0" height="102.8" fill="#000"/><rect x="1524.2" y="3557.9" width="5.8" height="102.8" fill="#777"/>
<text x="1012.39" y="3632.60" font-family="'DejaVu Sans', 'Liberation Sans', sans-serif" font-weight="normal" font-size="67.50" fill="#000" textLength="478.94" lengthAdjust="spacingAndGlyphs" stroke="#fff" stroke-width="1.0" letter-spacing="2">Native c-NFs</text>
</svg></body></html>
